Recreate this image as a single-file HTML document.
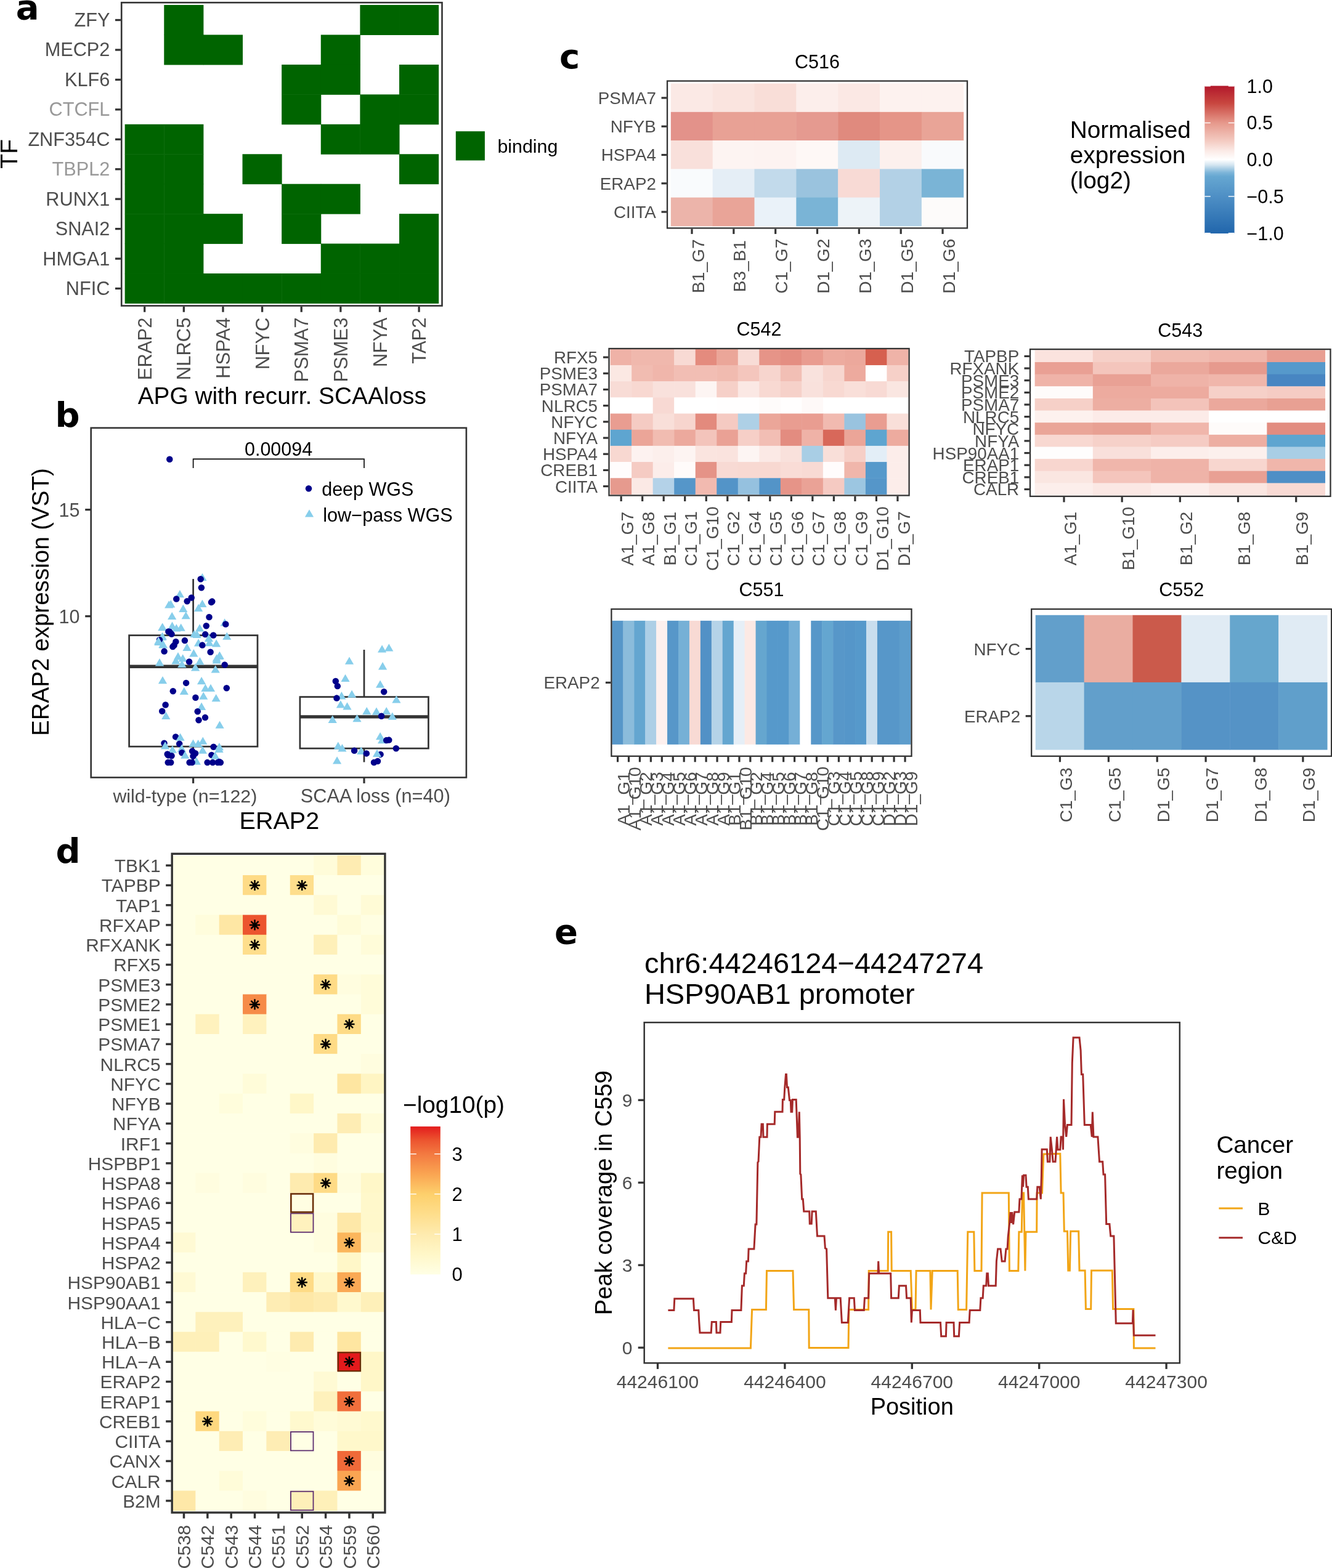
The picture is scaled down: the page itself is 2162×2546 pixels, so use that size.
<!DOCTYPE html>
<html><head><meta charset="utf-8"><title>Figure</title>
<style>
html,body{margin:0;padding:0;background:#fff;}
body{width:2162px;height:2546px;overflow:hidden;}
svg{display:block;}
text{font-family:'Liberation Sans', Arial, Helvetica, sans-serif;}
</style></head>
<body>
<svg width="2162" height="2546" viewBox="0 0 2162 2546">
<rect x="0" y="0" width="2162" height="2546" fill="#FFFFFF"/>
<rect x="266.27" y="8.05" width="64.12" height="48.94" fill="#006400"/>
<rect x="584.40" y="8.05" width="64.12" height="48.94" fill="#006400"/>
<rect x="648.02" y="8.05" width="64.12" height="48.94" fill="#006400"/>
<rect x="266.27" y="56.49" width="64.12" height="48.94" fill="#006400"/>
<rect x="329.90" y="56.49" width="64.12" height="48.94" fill="#006400"/>
<rect x="520.77" y="56.49" width="64.12" height="48.94" fill="#006400"/>
<rect x="457.15" y="104.93" width="64.12" height="48.94" fill="#006400"/>
<rect x="520.77" y="104.93" width="64.12" height="48.94" fill="#006400"/>
<rect x="648.02" y="104.93" width="64.12" height="48.94" fill="#006400"/>
<rect x="457.15" y="153.37" width="64.12" height="48.94" fill="#006400"/>
<rect x="584.40" y="153.37" width="64.12" height="48.94" fill="#006400"/>
<rect x="648.02" y="153.37" width="64.12" height="48.94" fill="#006400"/>
<rect x="202.65" y="201.81" width="64.12" height="48.94" fill="#006400"/>
<rect x="266.27" y="201.81" width="64.12" height="48.94" fill="#006400"/>
<rect x="520.77" y="201.81" width="64.12" height="48.94" fill="#006400"/>
<rect x="584.40" y="201.81" width="64.12" height="48.94" fill="#006400"/>
<rect x="202.65" y="250.25" width="64.12" height="48.94" fill="#006400"/>
<rect x="266.27" y="250.25" width="64.12" height="48.94" fill="#006400"/>
<rect x="393.52" y="250.25" width="64.12" height="48.94" fill="#006400"/>
<rect x="648.02" y="250.25" width="64.12" height="48.94" fill="#006400"/>
<rect x="202.65" y="298.69" width="64.12" height="48.94" fill="#006400"/>
<rect x="266.27" y="298.69" width="64.12" height="48.94" fill="#006400"/>
<rect x="457.15" y="298.69" width="64.12" height="48.94" fill="#006400"/>
<rect x="520.77" y="298.69" width="64.12" height="48.94" fill="#006400"/>
<rect x="202.65" y="347.13" width="64.12" height="48.94" fill="#006400"/>
<rect x="266.27" y="347.13" width="64.12" height="48.94" fill="#006400"/>
<rect x="329.90" y="347.13" width="64.12" height="48.94" fill="#006400"/>
<rect x="457.15" y="347.13" width="64.12" height="48.94" fill="#006400"/>
<rect x="648.02" y="347.13" width="64.12" height="48.94" fill="#006400"/>
<rect x="202.65" y="395.57" width="64.12" height="48.94" fill="#006400"/>
<rect x="266.27" y="395.57" width="64.12" height="48.94" fill="#006400"/>
<rect x="520.77" y="395.57" width="64.12" height="48.94" fill="#006400"/>
<rect x="584.40" y="395.57" width="64.12" height="48.94" fill="#006400"/>
<rect x="648.02" y="395.57" width="64.12" height="48.94" fill="#006400"/>
<rect x="202.65" y="444.01" width="64.12" height="48.94" fill="#006400"/>
<rect x="266.27" y="444.01" width="64.12" height="48.94" fill="#006400"/>
<rect x="329.90" y="444.01" width="64.12" height="48.94" fill="#006400"/>
<rect x="393.52" y="444.01" width="64.12" height="48.94" fill="#006400"/>
<rect x="457.15" y="444.01" width="64.12" height="48.94" fill="#006400"/>
<rect x="520.77" y="444.01" width="64.12" height="48.94" fill="#006400"/>
<rect x="584.40" y="444.01" width="64.12" height="48.94" fill="#006400"/>
<rect x="648.02" y="444.01" width="64.12" height="48.94" fill="#006400"/>
<rect x="197.20" y="4.20" width="520.30" height="492.30" fill="none" stroke="#333333" stroke-width="2.6"/>
<line x1="187.00" y1="32.52" x2="195.90" y2="32.52" stroke="#333333" stroke-width="3.3"/>
<text x="178.40" y="43.02" font-size="30.7" fill="#4D4D4D" text-anchor="end">ZFY</text>
<line x1="187.00" y1="80.96" x2="195.90" y2="80.96" stroke="#333333" stroke-width="3.3"/>
<text x="178.40" y="91.46" font-size="30.7" fill="#4D4D4D" text-anchor="end">MECP2</text>
<line x1="187.00" y1="129.40" x2="195.90" y2="129.40" stroke="#333333" stroke-width="3.3"/>
<text x="178.40" y="139.90" font-size="30.7" fill="#4D4D4D" text-anchor="end">KLF6</text>
<line x1="187.00" y1="177.84" x2="195.90" y2="177.84" stroke="#333333" stroke-width="3.3"/>
<text x="178.40" y="188.34" font-size="30.7" fill="#999999" text-anchor="end">CTCFL</text>
<line x1="187.00" y1="226.28" x2="195.90" y2="226.28" stroke="#333333" stroke-width="3.3"/>
<text x="178.40" y="236.78" font-size="30.7" fill="#4D4D4D" text-anchor="end">ZNF354C</text>
<line x1="187.00" y1="274.72" x2="195.90" y2="274.72" stroke="#333333" stroke-width="3.3"/>
<text x="178.40" y="285.22" font-size="30.7" fill="#999999" text-anchor="end">TBPL2</text>
<line x1="187.00" y1="323.16" x2="195.90" y2="323.16" stroke="#333333" stroke-width="3.3"/>
<text x="178.40" y="333.66" font-size="30.7" fill="#4D4D4D" text-anchor="end">RUNX1</text>
<line x1="187.00" y1="371.60" x2="195.90" y2="371.60" stroke="#333333" stroke-width="3.3"/>
<text x="178.40" y="382.10" font-size="30.7" fill="#4D4D4D" text-anchor="end">SNAI2</text>
<line x1="187.00" y1="420.04" x2="195.90" y2="420.04" stroke="#333333" stroke-width="3.3"/>
<text x="178.40" y="430.54" font-size="30.7" fill="#4D4D4D" text-anchor="end">HMGA1</text>
<line x1="187.00" y1="468.48" x2="195.90" y2="468.48" stroke="#333333" stroke-width="3.3"/>
<text x="178.40" y="478.98" font-size="30.7" fill="#4D4D4D" text-anchor="end">NFIC</text>
<line x1="234.71" y1="497.80" x2="234.71" y2="506.70" stroke="#333333" stroke-width="3.3"/>
<text transform="translate(245.81,515.50) rotate(-90)" font-size="31.0" fill="#4D4D4D" text-anchor="end">ERAP2</text>
<line x1="298.34" y1="497.80" x2="298.34" y2="506.70" stroke="#333333" stroke-width="3.3"/>
<text transform="translate(309.44,515.50) rotate(-90)" font-size="31.0" fill="#4D4D4D" text-anchor="end">NLRC5</text>
<line x1="361.96" y1="497.80" x2="361.96" y2="506.70" stroke="#333333" stroke-width="3.3"/>
<text transform="translate(373.06,515.50) rotate(-90)" font-size="31.0" fill="#4D4D4D" text-anchor="end">HSPA4</text>
<line x1="425.59" y1="497.80" x2="425.59" y2="506.70" stroke="#333333" stroke-width="3.3"/>
<text transform="translate(436.69,515.50) rotate(-90)" font-size="31.0" fill="#4D4D4D" text-anchor="end">NFYC</text>
<line x1="489.21" y1="497.80" x2="489.21" y2="506.70" stroke="#333333" stroke-width="3.3"/>
<text transform="translate(500.31,515.50) rotate(-90)" font-size="31.0" fill="#4D4D4D" text-anchor="end">PSMA7</text>
<line x1="552.84" y1="497.80" x2="552.84" y2="506.70" stroke="#333333" stroke-width="3.3"/>
<text transform="translate(563.94,515.50) rotate(-90)" font-size="31.0" fill="#4D4D4D" text-anchor="end">PSME3</text>
<line x1="616.46" y1="497.80" x2="616.46" y2="506.70" stroke="#333333" stroke-width="3.3"/>
<text transform="translate(627.56,515.50) rotate(-90)" font-size="31.0" fill="#4D4D4D" text-anchor="end">NFYA</text>
<line x1="680.09" y1="497.80" x2="680.09" y2="506.70" stroke="#333333" stroke-width="3.3"/>
<text transform="translate(691.19,515.50) rotate(-90)" font-size="31.0" fill="#4D4D4D" text-anchor="end">TAP2</text>
<text x="457.80" y="656.00" font-size="38.85" fill="#000" text-anchor="middle">APG with recurr. SCAAloss</text>
<text transform="translate(27.9,250.0) rotate(-90)" font-size="39.4" fill="#000" text-anchor="middle">TF</text>
<rect x="739.80" y="213.20" width="47.10" height="47.30" fill="#006400"/>
<text x="807.40" y="247.50" font-size="30.4" fill="#000" text-anchor="start">binding</text>
<text x="25.80" y="30.60" font-size="56" font-weight="bold" style="font-family:'DejaVu Sans', 'Liberation Sans', sans-serif" fill="#000">a</text>
<rect x="147.70" y="694.80" width="609.20" height="567.60" fill="none" stroke="#333333" stroke-width="2.6"/>
<line x1="138.20" y1="827.60" x2="147.70" y2="827.60" stroke="#333333" stroke-width="3.3"/>
<text x="129.50" y="838.50" font-size="30.5" fill="#4D4D4D" text-anchor="end">15</text>
<line x1="138.20" y1="1000.60" x2="147.70" y2="1000.60" stroke="#333333" stroke-width="3.3"/>
<text x="129.50" y="1011.50" font-size="30.5" fill="#4D4D4D" text-anchor="end">10</text>
<line x1="313.60" y1="1262.40" x2="313.60" y2="1271.90" stroke="#333333" stroke-width="3.2"/>
<text x="183.40" y="1302.70" font-size="30.4" fill="#4D4D4D" text-anchor="start">wild-type (n=122)</text>
<line x1="591.00" y1="1262.40" x2="591.00" y2="1271.90" stroke="#333333" stroke-width="3.2"/>
<text x="487.80" y="1302.70" font-size="30.7" fill="#4D4D4D" text-anchor="start">SCAA loss (n=40)</text>
<text x="453.35" y="1345.60" font-size="39.5" fill="#000" text-anchor="middle">ERAP2</text>
<text transform="translate(79,977.5) rotate(-90)" font-size="38.55" fill="#000" text-anchor="middle">ERAP2 expression (VST)</text>
<text x="89.50" y="693.00" font-size="56" font-weight="bold" style="font-family:'DejaVu Sans', 'Liberation Sans', sans-serif" fill="#000">b</text>
<line x1="313.60" y1="940.10" x2="313.60" y2="1031.60" stroke="#333333" stroke-width="2.7"/>
<line x1="313.60" y1="1212.20" x2="313.60" y2="1237.50" stroke="#333333" stroke-width="2.7"/>
<rect x="209.60" y="1031.60" width="208.40" height="180.60" fill="none" stroke="#333333" stroke-width="2.7"/>
<line x1="209.60" y1="1082.30" x2="418.00" y2="1082.30" stroke="#333333" stroke-width="5.4"/>
<line x1="591.00" y1="1055.00" x2="591.00" y2="1131.60" stroke="#333333" stroke-width="2.7"/>
<line x1="591.00" y1="1215.20" x2="591.00" y2="1237.50" stroke="#333333" stroke-width="2.7"/>
<rect x="486.90" y="1131.60" width="208.50" height="83.60" fill="none" stroke="#333333" stroke-width="2.7"/>
<line x1="486.90" y1="1163.90" x2="695.40" y2="1163.90" stroke="#333333" stroke-width="5.4"/>
<circle cx="275.3" cy="745.8" r="5.25" fill="#00008B"/>
<polygon points="321.3,943.0 335.5,943.0 328.4,930.7" fill="#87CEEB"/>
<circle cx="325.7" cy="940.3" r="5.25" fill="#00008B"/>
<circle cx="326.9" cy="954.2" r="5.25" fill="#00008B"/>
<polygon points="284.8,970.3 299.0,970.3 291.9,958.0" fill="#87CEEB"/>
<circle cx="286.3" cy="972.5" r="5.25" fill="#00008B"/>
<circle cx="310.7" cy="970.5" r="5.25" fill="#00008B"/>
<circle cx="303.7" cy="976.3" r="5.25" fill="#00008B"/>
<circle cx="343.0" cy="977.9" r="5.25" fill="#00008B"/>
<circle cx="344.3" cy="976.6" r="5.25" fill="#00008B"/>
<polygon points="270.1,986.6 284.3,986.6 277.2,974.3" fill="#87CEEB"/>
<polygon points="321.3,986.1 335.5,986.1 328.4,973.8" fill="#87CEEB"/>
<polygon points="315.0,992.9 329.2,992.9 322.1,980.6" fill="#87CEEB"/>
<polygon points="290.2,993.9 304.4,993.9 297.3,981.6" fill="#87CEEB"/>
<polygon points="272.1,1006.1 286.3,1006.1 279.2,993.8" fill="#87CEEB"/>
<polygon points="294.6,1005.2 308.8,1005.2 301.7,992.9" fill="#87CEEB"/>
<circle cx="339.5" cy="1002.0" r="5.25" fill="#00008B"/>
<circle cx="334.8" cy="1016.2" r="5.25" fill="#00008B"/>
<polygon points="357.6,1016.5 371.8,1016.5 364.7,1004.2" fill="#87CEEB"/>
<circle cx="366.3" cy="1013.5" r="5.25" fill="#00008B"/>
<polygon points="256.3,1024.2 270.5,1024.2 263.4,1011.9" fill="#87CEEB"/>
<polygon points="272.4,1021.9 286.6,1021.9 279.5,1009.6" fill="#87CEEB"/>
<polygon points="279.2,1025.6 293.4,1025.6 286.3,1013.3" fill="#87CEEB"/>
<polygon points="286.6,1024.7 300.8,1024.7 293.7,1012.4" fill="#87CEEB"/>
<polygon points="267.1,987.5 281.3,987.5 274.2,975.2" fill="#87CEEB"/>
<polygon points="256.7,1023.7 270.9,1023.7 263.8,1011.4" fill="#87CEEB"/>
<circle cx="273.4" cy="1025.5" r="5.25" fill="#00008B"/>
<circle cx="275.4" cy="1026.0" r="5.25" fill="#00008B"/>
<circle cx="278.5" cy="1029.6" r="5.25" fill="#00008B"/>
<polygon points="317.0,1025.6 331.2,1025.6 324.1,1013.3" fill="#87CEEB"/>
<polygon points="308.2,1035.1 322.4,1035.1 315.3,1022.8" fill="#87CEEB"/>
<polygon points="312.7,1036.0 326.9,1036.0 319.8,1023.7" fill="#87CEEB"/>
<circle cx="333.2" cy="1030.1" r="5.25" fill="#00008B"/>
<circle cx="346.3" cy="1031.5" r="5.25" fill="#00008B"/>
<polygon points="361.2,1038.7 375.4,1038.7 368.3,1026.4" fill="#87CEEB"/>
<polygon points="256.2,1039.7 270.4,1039.7 263.3,1027.4" fill="#87CEEB"/>
<polygon points="256.5,1038.7 270.7,1038.7 263.6,1026.4" fill="#87CEEB"/>
<circle cx="259.0" cy="1039.0" r="5.25" fill="#00008B"/>
<polygon points="250.1,1046.4 264.3,1046.4 257.2,1034.1" fill="#87CEEB"/>
<polygon points="250.3,1048.1 264.5,1048.1 257.4,1035.8" fill="#87CEEB"/>
<polygon points="257.4,1051.9 271.6,1051.9 264.5,1039.6" fill="#87CEEB"/>
<polygon points="257.8,1052.4 272.0,1052.4 264.9,1040.1" fill="#87CEEB"/>
<circle cx="285.4" cy="1041.9" r="5.25" fill="#00008B"/>
<circle cx="282.6" cy="1047.8" r="5.25" fill="#00008B"/>
<circle cx="280.4" cy="1050.1" r="5.25" fill="#00008B"/>
<circle cx="299.9" cy="1040.1" r="5.25" fill="#00008B"/>
<polygon points="315.0,1049.6 329.2,1049.6 322.1,1037.3" fill="#87CEEB"/>
<polygon points="332.7,1049.2 346.9,1049.2 339.8,1036.9" fill="#87CEEB"/>
<polygon points="344.0,1050.5 358.2,1050.5 351.1,1038.2" fill="#87CEEB"/>
<polygon points="331.8,1041.9 346.0,1041.9 338.9,1029.6" fill="#87CEEB"/>
<circle cx="328.4" cy="1047.6" r="5.25" fill="#00008B"/>
<polygon points="296.4,1056.9 310.6,1056.9 303.5,1044.6" fill="#87CEEB"/>
<circle cx="266.6" cy="1057.6" r="5.25" fill="#00008B"/>
<circle cx="341.6" cy="1058.7" r="5.25" fill="#00008B"/>
<polygon points="307.3,1066.4 321.5,1066.4 314.4,1054.1" fill="#87CEEB"/>
<polygon points="281.9,1071.4 296.1,1071.4 289.0,1059.1" fill="#87CEEB"/>
<polygon points="289.6,1074.6 303.8,1074.6 296.7,1062.3" fill="#87CEEB"/>
<polygon points="349.5,1070.0 363.7,1070.0 356.6,1057.7" fill="#87CEEB"/>
<polygon points="344.5,1074.6 358.7,1074.6 351.6,1062.3" fill="#87CEEB"/>
<polygon points="348.8,1070.9 363.0,1070.9 355.9,1058.6" fill="#87CEEB"/>
<polygon points="251.9,1081.4 266.1,1081.4 259.0,1069.1" fill="#87CEEB"/>
<polygon points="278.3,1078.5 292.5,1078.5 285.4,1066.2" fill="#87CEEB"/>
<polygon points="288.2,1084.0 302.4,1084.0 295.3,1071.7" fill="#87CEEB"/>
<circle cx="307.1" cy="1074.5" r="5.25" fill="#00008B"/>
<polygon points="317.3,1079.4 331.5,1079.4 324.4,1067.1" fill="#87CEEB"/>
<polygon points="310.0,1089.4 324.2,1089.4 317.1,1077.1" fill="#87CEEB"/>
<polygon points="344.5,1077.6 358.7,1077.6 351.6,1065.3" fill="#87CEEB"/>
<circle cx="364.7" cy="1079.4" r="5.25" fill="#00008B"/>
<polygon points="342.6,1092.6 356.8,1092.6 349.7,1080.3" fill="#87CEEB"/>
<polygon points="256.9,1110.3 271.1,1110.3 264.0,1098.0" fill="#87CEEB"/>
<circle cx="302.1" cy="1108.9" r="5.25" fill="#00008B"/>
<polygon points="320.0,1111.2 334.2,1111.2 327.1,1098.9" fill="#87CEEB"/>
<circle cx="367.8" cy="1117.3" r="5.25" fill="#00008B"/>
<circle cx="280.8" cy="1122.3" r="5.25" fill="#00008B"/>
<polygon points="291.7,1128.0 305.9,1128.0 298.8,1115.7" fill="#87CEEB"/>
<polygon points="326.3,1123.0 340.5,1123.0 333.4,1110.7" fill="#87CEEB"/>
<polygon points="334.9,1123.0 349.1,1123.0 342.0,1110.7" fill="#87CEEB"/>
<circle cx="317.4" cy="1132.8" r="5.25" fill="#00008B"/>
<polygon points="323.1,1135.7 337.3,1135.7 330.2,1123.4" fill="#87CEEB"/>
<polygon points="343.6,1139.3 357.8,1139.3 350.7,1127.0" fill="#87CEEB"/>
<circle cx="268.6" cy="1144.5" r="5.25" fill="#00008B"/>
<circle cx="263.2" cy="1154.7" r="5.25" fill="#00008B"/>
<polygon points="262.2,1167.9 276.4,1167.9 269.3,1155.6" fill="#87CEEB"/>
<polygon points="320.0,1152.9 334.2,1152.9 327.1,1140.6" fill="#87CEEB"/>
<circle cx="320.7" cy="1155.2" r="5.25" fill="#00008B"/>
<circle cx="333.0" cy="1165.1" r="5.25" fill="#00008B"/>
<circle cx="322.5" cy="1169.2" r="5.25" fill="#00008B"/>
<polygon points="349.5,1182.8 363.7,1182.8 356.6,1170.5" fill="#87CEEB"/>
<circle cx="285.1" cy="1196.4" r="5.25" fill="#00008B"/>
<polygon points="285.5,1202.8 299.7,1202.8 292.6,1190.5" fill="#87CEEB"/>
<circle cx="266.5" cy="1206.8" r="5.25" fill="#00008B"/>
<circle cx="291.2" cy="1207.8" r="5.25" fill="#00008B"/>
<polygon points="261.0,1216.4 275.2,1216.4 268.1,1204.1" fill="#87CEEB"/>
<polygon points="306.4,1212.8 320.6,1212.8 313.5,1200.5" fill="#87CEEB"/>
<polygon points="314.5,1213.2 328.7,1213.2 321.6,1200.9" fill="#87CEEB"/>
<polygon points="322.2,1208.7 336.4,1208.7 329.3,1196.4" fill="#87CEEB"/>
<circle cx="346.6" cy="1212.8" r="5.25" fill="#00008B"/>
<polygon points="348.8,1218.3 363.0,1218.3 355.9,1206.0" fill="#87CEEB"/>
<polygon points="272.8,1222.7 287.0,1222.7 279.9,1210.4" fill="#87CEEB"/>
<polygon points="287.8,1220.9 302.0,1220.9 294.9,1208.6" fill="#87CEEB"/>
<circle cx="273.1" cy="1226.4" r="5.25" fill="#00008B"/>
<circle cx="278.5" cy="1227.3" r="5.25" fill="#00008B"/>
<circle cx="295.3" cy="1222.3" r="5.25" fill="#00008B"/>
<polygon points="293.2,1231.8 307.4,1231.8 300.3,1219.5" fill="#87CEEB"/>
<circle cx="312.1" cy="1219.6" r="5.25" fill="#00008B"/>
<circle cx="317.1" cy="1223.2" r="5.25" fill="#00008B"/>
<circle cx="313.5" cy="1227.7" r="5.25" fill="#00008B"/>
<polygon points="321.8,1223.7 336.0,1223.7 328.9,1211.4" fill="#87CEEB"/>
<polygon points="348.5,1221.9 362.7,1221.9 355.6,1209.6" fill="#87CEEB"/>
<circle cx="343.4" cy="1225.9" r="5.25" fill="#00008B"/>
<polygon points="342.2,1232.7 356.4,1232.7 349.3,1220.4" fill="#87CEEB"/>
<circle cx="271.7" cy="1224.4" r="5.25" fill="#00008B"/>
<circle cx="272.7" cy="1238.1" r="5.25" fill="#00008B"/>
<circle cx="277.2" cy="1238.1" r="5.25" fill="#00008B"/>
<polygon points="311.8,1241.8 326.0,1241.8 318.9,1229.5" fill="#87CEEB"/>
<circle cx="307.6" cy="1238.1" r="5.25" fill="#00008B"/>
<circle cx="311.7" cy="1238.1" r="5.25" fill="#00008B"/>
<circle cx="336.6" cy="1238.1" r="5.25" fill="#00008B"/>
<circle cx="345.2" cy="1238.1" r="5.25" fill="#00008B"/>
<circle cx="353.4" cy="1238.1" r="5.25" fill="#00008B"/>
<circle cx="357.9" cy="1238.1" r="5.25" fill="#00008B"/>
<circle cx="355.9" cy="1237.0" r="5.25" fill="#00008B"/>
<polygon points="613.0,1059.6 627.2,1059.6 620.1,1047.3" fill="#87CEEB"/>
<polygon points="624.2,1057.5 638.4,1057.5 631.3,1045.2" fill="#87CEEB"/>
<polygon points="559.9,1078.8 574.1,1078.8 567.0,1066.5" fill="#87CEEB"/>
<polygon points="614.0,1087.4 628.2,1087.4 621.1,1075.1" fill="#87CEEB"/>
<circle cx="544.8" cy="1106.0" r="5.25" fill="#00008B"/>
<polygon points="553.4,1107.1 567.6,1107.1 560.5,1094.8" fill="#87CEEB"/>
<circle cx="547.8" cy="1114.1" r="5.25" fill="#00008B"/>
<polygon points="610.0,1116.7 624.2,1116.7 617.1,1104.4" fill="#87CEEB"/>
<circle cx="623.2" cy="1123.2" r="5.25" fill="#00008B"/>
<polygon points="547.3,1135.4 561.5,1135.4 554.4,1123.1" fill="#87CEEB"/>
<polygon points="564.0,1132.7 578.2,1132.7 571.1,1120.4" fill="#87CEEB"/>
<circle cx="546.5" cy="1133.6" r="5.25" fill="#00008B"/>
<polygon points="636.3,1141.5 650.5,1141.5 643.4,1129.2" fill="#87CEEB"/>
<polygon points="545.8,1149.6 560.0,1149.6 552.9,1137.3" fill="#87CEEB"/>
<polygon points="556.4,1152.6 570.6,1152.6 563.5,1140.3" fill="#87CEEB"/>
<polygon points="588.2,1160.2 602.4,1160.2 595.3,1147.9" fill="#87CEEB"/>
<polygon points="603.9,1160.7 618.1,1160.7 611.0,1148.4" fill="#87CEEB"/>
<polygon points="620.1,1160.2 634.3,1160.2 627.2,1147.9" fill="#87CEEB"/>
<circle cx="619.1" cy="1162.7" r="5.25" fill="#00008B"/>
<polygon points="629.7,1168.8 643.9,1168.8 636.8,1156.5" fill="#87CEEB"/>
<polygon points="532.6,1173.9 546.8,1173.9 539.7,1161.6" fill="#87CEEB"/>
<polygon points="572.4,1172.3 586.6,1172.3 579.5,1160.0" fill="#87CEEB"/>
<polygon points="610.0,1201.2 624.2,1201.2 617.1,1188.9" fill="#87CEEB"/>
<polygon points="613.0,1207.2 627.2,1207.2 620.1,1194.9" fill="#87CEEB"/>
<circle cx="627.2" cy="1202.1" r="5.25" fill="#00008B"/>
<circle cx="631.3" cy="1201.6" r="5.25" fill="#00008B"/>
<circle cx="642.9" cy="1215.3" r="5.25" fill="#00008B"/>
<polygon points="541.7,1216.8 555.9,1216.8 548.8,1204.5" fill="#87CEEB"/>
<polygon points="548.3,1220.4 562.5,1220.4 555.4,1208.1" fill="#87CEEB"/>
<circle cx="575.1" cy="1218.8" r="5.25" fill="#00008B"/>
<polygon points="579.1,1224.9 593.3,1224.9 586.2,1212.6" fill="#87CEEB"/>
<circle cx="594.8" cy="1223.4" r="5.25" fill="#00008B"/>
<circle cx="617.6" cy="1224.9" r="5.25" fill="#00008B"/>
<polygon points="604.9,1229.0 619.1,1229.0 612.0,1216.7" fill="#87CEEB"/>
<circle cx="607.0" cy="1238.0" r="5.25" fill="#00008B"/>
<circle cx="613.0" cy="1236.0" r="5.25" fill="#00008B"/>
<polygon points="540.0,1240.6 554.2,1240.6 547.1,1228.3" fill="#87CEEB"/>
<polyline points="313.6,760.1 313.6,745.4 591,745.4 591,760.1" fill="none" stroke="#000" stroke-width="1.6"/>
<text x="452.10" y="739.80" font-size="30.5" fill="#000" text-anchor="middle">0.00094</text>
<circle cx="501.0" cy="793.2" r="5.25" fill="#00008B"/>
<text x="522.20" y="804.80" font-size="30.5" fill="#000" text-anchor="start">deep WGS</text>
<polygon points="494.9,839.6 509.1,839.6 502.0,827.3" fill="#87CEEB"/>
<text x="524.20" y="847.00" font-size="30.7" fill="#000" text-anchor="start">low−pass WGS</text>
<text x="908.10" y="111.20" font-size="56" font-weight="bold" style="font-family:'DejaVu Sans', 'Liberation Sans', sans-serif" fill="#000">c</text>
<rect x="1088.85" y="135.55" width="68.34" height="46.78" fill="#FBE9E5"/>
<rect x="1156.69" y="135.55" width="68.34" height="46.78" fill="#FAE4DF"/>
<rect x="1224.52" y="135.55" width="68.34" height="46.78" fill="#F9DED8"/>
<rect x="1292.36" y="135.55" width="68.34" height="46.78" fill="#FCEEEB"/>
<rect x="1360.19" y="135.55" width="68.34" height="46.78" fill="#FBE8E4"/>
<rect x="1428.03" y="135.55" width="68.34" height="46.78" fill="#FDF2EF"/>
<rect x="1495.86" y="135.55" width="68.34" height="46.78" fill="#FDF2EF"/>
<rect x="1088.85" y="181.83" width="68.34" height="46.78" fill="#E3928A"/>
<rect x="1156.69" y="181.83" width="68.34" height="46.78" fill="#E8A195"/>
<rect x="1224.52" y="181.83" width="68.34" height="46.78" fill="#E8A195"/>
<rect x="1292.36" y="181.83" width="68.34" height="46.78" fill="#E59A90"/>
<rect x="1360.19" y="181.83" width="68.34" height="46.78" fill="#E08A7E"/>
<rect x="1428.03" y="181.83" width="68.34" height="46.78" fill="#E59588"/>
<rect x="1495.86" y="181.83" width="68.34" height="46.78" fill="#E9A497"/>
<rect x="1088.85" y="228.11" width="68.34" height="46.78" fill="#F9E0DB"/>
<rect x="1156.69" y="228.11" width="68.34" height="46.78" fill="#FDF4F2"/>
<rect x="1224.52" y="228.11" width="68.34" height="46.78" fill="#FDF3F1"/>
<rect x="1292.36" y="228.11" width="68.34" height="46.78" fill="#FEF8F6"/>
<rect x="1360.19" y="228.11" width="68.34" height="46.78" fill="#DDEAF3"/>
<rect x="1428.03" y="228.11" width="68.34" height="46.78" fill="#FCF0ED"/>
<rect x="1495.86" y="228.11" width="68.34" height="46.78" fill="#F9FAFC"/>
<rect x="1088.85" y="274.39" width="68.34" height="46.78" fill="#F9FBFD"/>
<rect x="1156.69" y="274.39" width="68.34" height="46.78" fill="#E5EEF6"/>
<rect x="1224.52" y="274.39" width="68.34" height="46.78" fill="#C2DAEB"/>
<rect x="1292.36" y="274.39" width="68.34" height="46.78" fill="#9AC3DE"/>
<rect x="1360.19" y="274.39" width="68.34" height="46.78" fill="#F8DAD5"/>
<rect x="1428.03" y="274.39" width="68.34" height="46.78" fill="#B3D1E6"/>
<rect x="1495.86" y="274.39" width="68.34" height="46.78" fill="#7AB4D6"/>
<rect x="1088.85" y="320.67" width="68.34" height="46.78" fill="#ECB4AA"/>
<rect x="1156.69" y="320.67" width="68.34" height="46.78" fill="#E9A498"/>
<rect x="1224.52" y="320.67" width="68.34" height="46.78" fill="#EAF2F9"/>
<rect x="1292.36" y="320.67" width="68.34" height="46.78" fill="#7AB4D6"/>
<rect x="1360.19" y="320.67" width="68.34" height="46.78" fill="#EDF3F8"/>
<rect x="1428.03" y="320.67" width="68.34" height="46.78" fill="#B3D1E6"/>
<rect x="1495.86" y="320.67" width="68.34" height="46.78" fill="#FDFBFA"/>
<rect x="1083.05" y="131.50" width="486.95" height="238.90" fill="none" stroke="#333333" stroke-width="2.3"/>
<line x1="1073.55" y1="158.94" x2="1081.90" y2="158.94" stroke="#333333" stroke-width="3.2"/>
<text x="1064.90" y="168.89" font-size="27.8" fill="#4D4D4D" text-anchor="end">PSMA7</text>
<line x1="1073.55" y1="205.22" x2="1081.90" y2="205.22" stroke="#333333" stroke-width="3.2"/>
<text x="1064.90" y="215.17" font-size="27.8" fill="#4D4D4D" text-anchor="end">NFYB</text>
<line x1="1073.55" y1="251.50" x2="1081.90" y2="251.50" stroke="#333333" stroke-width="3.2"/>
<text x="1064.90" y="261.45" font-size="27.8" fill="#4D4D4D" text-anchor="end">HSPA4</text>
<line x1="1073.55" y1="297.78" x2="1081.90" y2="297.78" stroke="#333333" stroke-width="3.2"/>
<text x="1064.90" y="307.73" font-size="27.8" fill="#4D4D4D" text-anchor="end">ERAP2</text>
<line x1="1073.55" y1="344.06" x2="1081.90" y2="344.06" stroke="#333333" stroke-width="3.2"/>
<text x="1064.90" y="354.01" font-size="27.8" fill="#4D4D4D" text-anchor="end">CIITA</text>
<line x1="1123.02" y1="371.55" x2="1123.02" y2="379.90" stroke="#333333" stroke-width="3.2"/>
<text transform="translate(1142.62,432.20) rotate(-90)" font-size="28.1" fill="#4D4D4D" text-anchor="middle">B1_G7</text>
<line x1="1190.85" y1="371.55" x2="1190.85" y2="379.90" stroke="#333333" stroke-width="3.2"/>
<text transform="translate(1210.45,432.20) rotate(-90)" font-size="28.1" fill="#4D4D4D" text-anchor="middle">B3_B1</text>
<line x1="1258.69" y1="371.55" x2="1258.69" y2="379.90" stroke="#333333" stroke-width="3.2"/>
<text transform="translate(1278.29,432.20) rotate(-90)" font-size="28.1" fill="#4D4D4D" text-anchor="middle">C1_G7</text>
<line x1="1326.53" y1="371.55" x2="1326.53" y2="379.90" stroke="#333333" stroke-width="3.2"/>
<text transform="translate(1346.12,432.20) rotate(-90)" font-size="28.1" fill="#4D4D4D" text-anchor="middle">D1_G2</text>
<line x1="1394.36" y1="371.55" x2="1394.36" y2="379.90" stroke="#333333" stroke-width="3.2"/>
<text transform="translate(1413.96,432.20) rotate(-90)" font-size="28.1" fill="#4D4D4D" text-anchor="middle">D1_G3</text>
<line x1="1462.20" y1="371.55" x2="1462.20" y2="379.90" stroke="#333333" stroke-width="3.2"/>
<text transform="translate(1481.80,432.20) rotate(-90)" font-size="28.1" fill="#4D4D4D" text-anchor="middle">D1_G5</text>
<line x1="1530.03" y1="371.55" x2="1530.03" y2="379.90" stroke="#333333" stroke-width="3.2"/>
<text transform="translate(1549.63,432.20) rotate(-90)" font-size="28.1" fill="#4D4D4D" text-anchor="middle">D1_G6</text>
<text x="1326.53" y="110.50" font-size="30.5" fill="#000" text-anchor="middle">C516</text>
<rect x="990.65" y="566.75" width="35.02" height="26.69" fill="#EFB2A7"/>
<rect x="1025.17" y="566.75" width="35.02" height="26.69" fill="#F0B8AD"/>
<rect x="1059.69" y="566.75" width="35.02" height="26.69" fill="#F0B8AD"/>
<rect x="1094.21" y="566.75" width="35.02" height="26.69" fill="#F8DAD4"/>
<rect x="1128.74" y="566.75" width="35.02" height="26.69" fill="#E48B7E"/>
<rect x="1163.26" y="566.75" width="35.02" height="26.69" fill="#EBA699"/>
<rect x="1197.78" y="566.75" width="35.02" height="26.69" fill="#F8DCD6"/>
<rect x="1232.30" y="566.75" width="35.02" height="26.69" fill="#E69488"/>
<rect x="1266.82" y="566.75" width="35.02" height="26.69" fill="#E48E82"/>
<rect x="1301.34" y="566.75" width="35.02" height="26.69" fill="#E99C90"/>
<rect x="1335.86" y="566.75" width="35.02" height="26.69" fill="#EDAB9F"/>
<rect x="1370.39" y="566.75" width="35.02" height="26.69" fill="#ECA89C"/>
<rect x="1404.91" y="566.75" width="35.02" height="26.69" fill="#D6604F"/>
<rect x="1439.43" y="566.75" width="35.02" height="26.69" fill="#EFB3A8"/>
<rect x="990.65" y="592.94" width="35.02" height="26.69" fill="#FBE8E3"/>
<rect x="1025.17" y="592.94" width="35.02" height="26.69" fill="#F1BCB1"/>
<rect x="1059.69" y="592.94" width="35.02" height="26.69" fill="#F0B6AB"/>
<rect x="1094.21" y="592.94" width="35.02" height="26.69" fill="#F2BEB4"/>
<rect x="1128.74" y="592.94" width="35.02" height="26.69" fill="#F2BEB4"/>
<rect x="1163.26" y="592.94" width="35.02" height="26.69" fill="#F1BBB0"/>
<rect x="1197.78" y="592.94" width="35.02" height="26.69" fill="#F4C6BD"/>
<rect x="1232.30" y="592.94" width="35.02" height="26.69" fill="#F7D5CE"/>
<rect x="1266.82" y="592.94" width="35.02" height="26.69" fill="#F2BFB5"/>
<rect x="1301.34" y="592.94" width="35.02" height="26.69" fill="#F9E2DD"/>
<rect x="1335.86" y="592.94" width="35.02" height="26.69" fill="#F7D6CF"/>
<rect x="1370.39" y="592.94" width="35.02" height="26.69" fill="#EDAA9E"/>
<rect x="1404.91" y="592.94" width="35.02" height="26.69" fill="#FFFFFF"/>
<rect x="1439.43" y="592.94" width="35.02" height="26.69" fill="#F6D0C8"/>
<rect x="990.65" y="619.13" width="35.02" height="26.69" fill="#F8DCD6"/>
<rect x="1025.17" y="619.13" width="35.02" height="26.69" fill="#F8D8D1"/>
<rect x="1059.69" y="619.13" width="35.02" height="26.69" fill="#F9E1DC"/>
<rect x="1094.21" y="619.13" width="35.02" height="26.69" fill="#F9E1DC"/>
<rect x="1128.74" y="619.13" width="35.02" height="26.69" fill="#FDF5F3"/>
<rect x="1163.26" y="619.13" width="35.02" height="26.69" fill="#F6D0C8"/>
<rect x="1197.78" y="619.13" width="35.02" height="26.69" fill="#FBE8E4"/>
<rect x="1232.30" y="619.13" width="35.02" height="26.69" fill="#F8D9D2"/>
<rect x="1266.82" y="619.13" width="35.02" height="26.69" fill="#F6D1C9"/>
<rect x="1301.34" y="619.13" width="35.02" height="26.69" fill="#F9E1DC"/>
<rect x="1335.86" y="619.13" width="35.02" height="26.69" fill="#F8D9D2"/>
<rect x="1370.39" y="619.13" width="35.02" height="26.69" fill="#F9DFD9"/>
<rect x="1404.91" y="619.13" width="35.02" height="26.69" fill="#F8DAD4"/>
<rect x="1439.43" y="619.13" width="35.02" height="26.69" fill="#FAE6E1"/>
<rect x="990.65" y="645.32" width="35.02" height="26.69" fill="#FFFFFF"/>
<rect x="1025.17" y="645.32" width="35.02" height="26.69" fill="#FFFFFF"/>
<rect x="1059.69" y="645.32" width="35.02" height="26.69" fill="#F8D9D3"/>
<rect x="1094.21" y="645.32" width="35.02" height="26.69" fill="#FFFFFF"/>
<rect x="1128.74" y="645.32" width="35.02" height="26.69" fill="#FFFFFF"/>
<rect x="1163.26" y="645.32" width="35.02" height="26.69" fill="#FFFEFE"/>
<rect x="1197.78" y="645.32" width="35.02" height="26.69" fill="#FFFEFE"/>
<rect x="1232.30" y="645.32" width="35.02" height="26.69" fill="#FEFBFA"/>
<rect x="1266.82" y="645.32" width="35.02" height="26.69" fill="#FFFEFE"/>
<rect x="1301.34" y="645.32" width="35.02" height="26.69" fill="#FEF9F8"/>
<rect x="1335.86" y="645.32" width="35.02" height="26.69" fill="#FFFFFF"/>
<rect x="1370.39" y="645.32" width="35.02" height="26.69" fill="#FFFFFF"/>
<rect x="1404.91" y="645.32" width="35.02" height="26.69" fill="#FFFFFF"/>
<rect x="1439.43" y="645.32" width="35.02" height="26.69" fill="#FFFFFF"/>
<rect x="990.65" y="671.51" width="35.02" height="26.69" fill="#E99D91"/>
<rect x="1025.17" y="671.51" width="35.02" height="26.69" fill="#F5CBC3"/>
<rect x="1059.69" y="671.51" width="35.02" height="26.69" fill="#F9DFD9"/>
<rect x="1094.21" y="671.51" width="35.02" height="26.69" fill="#F7D5CE"/>
<rect x="1128.74" y="671.51" width="35.02" height="26.69" fill="#E38A7D"/>
<rect x="1163.26" y="671.51" width="35.02" height="26.69" fill="#F5CAC2"/>
<rect x="1197.78" y="671.51" width="35.02" height="26.69" fill="#AED0E6"/>
<rect x="1232.30" y="671.51" width="35.02" height="26.69" fill="#EBA699"/>
<rect x="1266.82" y="671.51" width="35.02" height="26.69" fill="#E99D91"/>
<rect x="1301.34" y="671.51" width="35.02" height="26.69" fill="#E99D91"/>
<rect x="1335.86" y="671.51" width="35.02" height="26.69" fill="#F1BAB0"/>
<rect x="1370.39" y="671.51" width="35.02" height="26.69" fill="#99C3DF"/>
<rect x="1404.91" y="671.51" width="35.02" height="26.69" fill="#E99D91"/>
<rect x="1439.43" y="671.51" width="35.02" height="26.69" fill="#F9DFD9"/>
<rect x="990.65" y="697.69" width="35.02" height="26.69" fill="#5EA5D0"/>
<rect x="1025.17" y="697.69" width="35.02" height="26.69" fill="#EBA598"/>
<rect x="1059.69" y="697.69" width="35.02" height="26.69" fill="#F1BCB1"/>
<rect x="1094.21" y="697.69" width="35.02" height="26.69" fill="#ECA99D"/>
<rect x="1128.74" y="697.69" width="35.02" height="26.69" fill="#F3C4BB"/>
<rect x="1163.26" y="697.69" width="35.02" height="26.69" fill="#EAA195"/>
<rect x="1197.78" y="697.69" width="35.02" height="26.69" fill="#F6CFC7"/>
<rect x="1232.30" y="697.69" width="35.02" height="26.69" fill="#F2BEB4"/>
<rect x="1266.82" y="697.69" width="35.02" height="26.69" fill="#E38C80"/>
<rect x="1301.34" y="697.69" width="35.02" height="26.69" fill="#EFB2A7"/>
<rect x="1335.86" y="697.69" width="35.02" height="26.69" fill="#D8685A"/>
<rect x="1370.39" y="697.69" width="35.02" height="26.69" fill="#EBA598"/>
<rect x="1404.91" y="697.69" width="35.02" height="26.69" fill="#5EA5D0"/>
<rect x="1439.43" y="697.69" width="35.02" height="26.69" fill="#EDAB9F"/>
<rect x="990.65" y="723.88" width="35.02" height="26.69" fill="#F8D8D1"/>
<rect x="1025.17" y="723.88" width="35.02" height="26.69" fill="#FDF2F0"/>
<rect x="1059.69" y="723.88" width="35.02" height="26.69" fill="#FCEFEC"/>
<rect x="1094.21" y="723.88" width="35.02" height="26.69" fill="#FDF4F2"/>
<rect x="1128.74" y="723.88" width="35.02" height="26.69" fill="#FAE4DF"/>
<rect x="1163.26" y="723.88" width="35.02" height="26.69" fill="#FAE3DE"/>
<rect x="1197.78" y="723.88" width="35.02" height="26.69" fill="#FDF5F3"/>
<rect x="1232.30" y="723.88" width="35.02" height="26.69" fill="#FBE9E5"/>
<rect x="1266.82" y="723.88" width="35.02" height="26.69" fill="#F9E1DC"/>
<rect x="1301.34" y="723.88" width="35.02" height="26.69" fill="#A9CEE5"/>
<rect x="1335.86" y="723.88" width="35.02" height="26.69" fill="#F9DFD9"/>
<rect x="1370.39" y="723.88" width="35.02" height="26.69" fill="#F6CFC7"/>
<rect x="1404.91" y="723.88" width="35.02" height="26.69" fill="#E3EEF7"/>
<rect x="1439.43" y="723.88" width="35.02" height="26.69" fill="#FCEDEA"/>
<rect x="990.65" y="750.07" width="35.02" height="26.69" fill="#FFFCFC"/>
<rect x="1025.17" y="750.07" width="35.02" height="26.69" fill="#F5CBC3"/>
<rect x="1059.69" y="750.07" width="35.02" height="26.69" fill="#FCEDEA"/>
<rect x="1094.21" y="750.07" width="35.02" height="26.69" fill="#FFFBFA"/>
<rect x="1128.74" y="750.07" width="35.02" height="26.69" fill="#E59387"/>
<rect x="1163.26" y="750.07" width="35.02" height="26.69" fill="#F8DAD4"/>
<rect x="1197.78" y="750.07" width="35.02" height="26.69" fill="#F8D9D2"/>
<rect x="1232.30" y="750.07" width="35.02" height="26.69" fill="#F8D8D1"/>
<rect x="1266.82" y="750.07" width="35.02" height="26.69" fill="#F9DCD6"/>
<rect x="1301.34" y="750.07" width="35.02" height="26.69" fill="#F8DAD4"/>
<rect x="1335.86" y="750.07" width="35.02" height="26.69" fill="#FFFCFC"/>
<rect x="1370.39" y="750.07" width="35.02" height="26.69" fill="#F0B6AB"/>
<rect x="1404.91" y="750.07" width="35.02" height="26.69" fill="#5699CB"/>
<rect x="1439.43" y="750.07" width="35.02" height="26.69" fill="#FCEDEA"/>
<rect x="990.65" y="776.26" width="35.02" height="26.69" fill="#E69A8E"/>
<rect x="1025.17" y="776.26" width="35.02" height="26.69" fill="#FBE9E5"/>
<rect x="1059.69" y="776.26" width="35.02" height="26.69" fill="#B4D2E8"/>
<rect x="1094.21" y="776.26" width="35.02" height="26.69" fill="#5596C9"/>
<rect x="1128.74" y="776.26" width="35.02" height="26.69" fill="#F2BAB0"/>
<rect x="1163.26" y="776.26" width="35.02" height="26.69" fill="#5394C8"/>
<rect x="1197.78" y="776.26" width="35.02" height="26.69" fill="#95C1DF"/>
<rect x="1232.30" y="776.26" width="35.02" height="26.69" fill="#5394C8"/>
<rect x="1266.82" y="776.26" width="35.02" height="26.69" fill="#E69488"/>
<rect x="1301.34" y="776.26" width="35.02" height="26.69" fill="#EAA296"/>
<rect x="1335.86" y="776.26" width="35.02" height="26.69" fill="#F5CAC2"/>
<rect x="1370.39" y="776.26" width="35.02" height="26.69" fill="#9CC6E1"/>
<rect x="1404.91" y="776.26" width="35.02" height="26.69" fill="#5596C9"/>
<rect x="1439.43" y="776.26" width="35.02" height="26.69" fill="#FCEDEA"/>
<rect x="988.50" y="566.00" width="487.10" height="238.50" fill="none" stroke="#333333" stroke-width="2.3"/>
<line x1="979.00" y1="580.09" x2="987.35" y2="580.09" stroke="#333333" stroke-width="3.2"/>
<text x="970.00" y="590.05" font-size="27.8" fill="#4D4D4D" text-anchor="end">RFX5</text>
<line x1="979.00" y1="606.28" x2="987.35" y2="606.28" stroke="#333333" stroke-width="3.2"/>
<text x="970.00" y="616.24" font-size="27.8" fill="#4D4D4D" text-anchor="end">PSME3</text>
<line x1="979.00" y1="632.47" x2="987.35" y2="632.47" stroke="#333333" stroke-width="3.2"/>
<text x="970.00" y="642.42" font-size="27.8" fill="#4D4D4D" text-anchor="end">PSMA7</text>
<line x1="979.00" y1="658.66" x2="987.35" y2="658.66" stroke="#333333" stroke-width="3.2"/>
<text x="970.00" y="668.61" font-size="27.8" fill="#4D4D4D" text-anchor="end">NLRC5</text>
<line x1="979.00" y1="684.85" x2="987.35" y2="684.85" stroke="#333333" stroke-width="3.2"/>
<text x="970.00" y="694.80" font-size="27.8" fill="#4D4D4D" text-anchor="end">NFYC</text>
<line x1="979.00" y1="711.04" x2="987.35" y2="711.04" stroke="#333333" stroke-width="3.2"/>
<text x="970.00" y="720.99" font-size="27.8" fill="#4D4D4D" text-anchor="end">NFYA</text>
<line x1="979.00" y1="737.23" x2="987.35" y2="737.23" stroke="#333333" stroke-width="3.2"/>
<text x="970.00" y="747.18" font-size="27.8" fill="#4D4D4D" text-anchor="end">HSPA4</text>
<line x1="979.00" y1="763.42" x2="987.35" y2="763.42" stroke="#333333" stroke-width="3.2"/>
<text x="970.00" y="773.37" font-size="27.8" fill="#4D4D4D" text-anchor="end">CREB1</text>
<line x1="979.00" y1="789.61" x2="987.35" y2="789.61" stroke="#333333" stroke-width="3.2"/>
<text x="970.00" y="799.56" font-size="27.8" fill="#4D4D4D" text-anchor="end">CIITA</text>
<line x1="1008.16" y1="805.65" x2="1008.16" y2="814.00" stroke="#333333" stroke-width="3.2"/>
<text transform="translate(1027.76,874.70) rotate(-90)" font-size="28.1" fill="#4D4D4D" text-anchor="middle">A1_G7</text>
<line x1="1042.68" y1="805.65" x2="1042.68" y2="814.00" stroke="#333333" stroke-width="3.2"/>
<text transform="translate(1062.28,874.70) rotate(-90)" font-size="28.1" fill="#4D4D4D" text-anchor="middle">A1_G8</text>
<line x1="1077.20" y1="805.65" x2="1077.20" y2="814.00" stroke="#333333" stroke-width="3.2"/>
<text transform="translate(1096.80,874.70) rotate(-90)" font-size="28.1" fill="#4D4D4D" text-anchor="middle">B1_G1</text>
<line x1="1111.72" y1="805.65" x2="1111.72" y2="814.00" stroke="#333333" stroke-width="3.2"/>
<text transform="translate(1131.32,874.70) rotate(-90)" font-size="28.1" fill="#4D4D4D" text-anchor="middle">C1_G1</text>
<line x1="1146.25" y1="805.65" x2="1146.25" y2="814.00" stroke="#333333" stroke-width="3.2"/>
<text transform="translate(1165.85,874.70) rotate(-90)" font-size="28.1" fill="#4D4D4D" text-anchor="middle">C1_G10</text>
<line x1="1180.77" y1="805.65" x2="1180.77" y2="814.00" stroke="#333333" stroke-width="3.2"/>
<text transform="translate(1200.37,874.70) rotate(-90)" font-size="28.1" fill="#4D4D4D" text-anchor="middle">C1_G2</text>
<line x1="1215.29" y1="805.65" x2="1215.29" y2="814.00" stroke="#333333" stroke-width="3.2"/>
<text transform="translate(1234.89,874.70) rotate(-90)" font-size="28.1" fill="#4D4D4D" text-anchor="middle">C1_G4</text>
<line x1="1249.81" y1="805.65" x2="1249.81" y2="814.00" stroke="#333333" stroke-width="3.2"/>
<text transform="translate(1269.41,874.70) rotate(-90)" font-size="28.1" fill="#4D4D4D" text-anchor="middle">C1_G5</text>
<line x1="1284.33" y1="805.65" x2="1284.33" y2="814.00" stroke="#333333" stroke-width="3.2"/>
<text transform="translate(1303.93,874.70) rotate(-90)" font-size="28.1" fill="#4D4D4D" text-anchor="middle">C1_G6</text>
<line x1="1318.85" y1="805.65" x2="1318.85" y2="814.00" stroke="#333333" stroke-width="3.2"/>
<text transform="translate(1338.45,874.70) rotate(-90)" font-size="28.1" fill="#4D4D4D" text-anchor="middle">C1_G7</text>
<line x1="1353.38" y1="805.65" x2="1353.38" y2="814.00" stroke="#333333" stroke-width="3.2"/>
<text transform="translate(1372.97,874.70) rotate(-90)" font-size="28.1" fill="#4D4D4D" text-anchor="middle">C1_G8</text>
<line x1="1387.90" y1="805.65" x2="1387.90" y2="814.00" stroke="#333333" stroke-width="3.2"/>
<text transform="translate(1407.50,874.70) rotate(-90)" font-size="28.1" fill="#4D4D4D" text-anchor="middle">C1_G9</text>
<line x1="1422.42" y1="805.65" x2="1422.42" y2="814.00" stroke="#333333" stroke-width="3.2"/>
<text transform="translate(1442.02,874.70) rotate(-90)" font-size="28.1" fill="#4D4D4D" text-anchor="middle">D1_G10</text>
<line x1="1456.94" y1="805.65" x2="1456.94" y2="814.00" stroke="#333333" stroke-width="3.2"/>
<text transform="translate(1476.54,874.70) rotate(-90)" font-size="28.1" fill="#4D4D4D" text-anchor="middle">D1_G7</text>
<text x="1232.05" y="544.50" font-size="30.5" fill="#000" text-anchor="middle">C542</text>
<rect x="1679.65" y="568.35" width="94.68" height="20.14" fill="#FBE3DE"/>
<rect x="1773.83" y="568.35" width="94.68" height="20.14" fill="#F6D0C8"/>
<rect x="1868.01" y="568.35" width="94.68" height="20.14" fill="#F1BCB1"/>
<rect x="1962.19" y="568.35" width="94.68" height="20.14" fill="#F0B6AB"/>
<rect x="2056.37" y="568.35" width="94.68" height="20.14" fill="#E89E92"/>
<rect x="1679.65" y="587.99" width="94.68" height="20.14" fill="#E9A094"/>
<rect x="1773.83" y="587.99" width="94.68" height="20.14" fill="#F4C5BC"/>
<rect x="1868.01" y="587.99" width="94.68" height="20.14" fill="#EBA89C"/>
<rect x="1962.19" y="587.99" width="94.68" height="20.14" fill="#E69A8E"/>
<rect x="2056.37" y="587.99" width="94.68" height="20.14" fill="#5699CB"/>
<rect x="1679.65" y="607.63" width="94.68" height="20.14" fill="#EFB3A8"/>
<rect x="1773.83" y="607.63" width="94.68" height="20.14" fill="#E9A195"/>
<rect x="1868.01" y="607.63" width="94.68" height="20.14" fill="#EFB3A8"/>
<rect x="1962.19" y="607.63" width="94.68" height="20.14" fill="#F0B6AB"/>
<rect x="2056.37" y="607.63" width="94.68" height="20.14" fill="#4886C2"/>
<rect x="1679.65" y="627.27" width="94.68" height="20.14" fill="#FEFBFA"/>
<rect x="1773.83" y="627.27" width="94.68" height="20.14" fill="#EDAB9F"/>
<rect x="1868.01" y="627.27" width="94.68" height="20.14" fill="#EDAB9F"/>
<rect x="1962.19" y="627.27" width="94.68" height="20.14" fill="#F6D0C8"/>
<rect x="2056.37" y="627.27" width="94.68" height="20.14" fill="#F5CCC4"/>
<rect x="1679.65" y="646.92" width="94.68" height="20.14" fill="#F6D0C8"/>
<rect x="1773.83" y="646.92" width="94.68" height="20.14" fill="#EDAEA2"/>
<rect x="1868.01" y="646.92" width="94.68" height="20.14" fill="#F3C3BA"/>
<rect x="1962.19" y="646.92" width="94.68" height="20.14" fill="#EBA89C"/>
<rect x="2056.37" y="646.92" width="94.68" height="20.14" fill="#E8A093"/>
<rect x="1679.65" y="666.56" width="94.68" height="20.14" fill="#FDF1EE"/>
<rect x="1773.83" y="666.56" width="94.68" height="20.14" fill="#FCEBE8"/>
<rect x="1868.01" y="666.56" width="94.68" height="20.14" fill="#FCEBE8"/>
<rect x="1962.19" y="666.56" width="94.68" height="20.14" fill="#FFFFFF"/>
<rect x="2056.37" y="666.56" width="94.68" height="20.14" fill="#FFFFFF"/>
<rect x="1679.65" y="686.20" width="94.68" height="20.14" fill="#EAA598"/>
<rect x="1773.83" y="686.20" width="94.68" height="20.14" fill="#E8A093"/>
<rect x="1868.01" y="686.20" width="94.68" height="20.14" fill="#F0B6AB"/>
<rect x="1962.19" y="686.20" width="94.68" height="20.14" fill="#FEFBFA"/>
<rect x="2056.37" y="686.20" width="94.68" height="20.14" fill="#E28C80"/>
<rect x="1679.65" y="705.84" width="94.68" height="20.14" fill="#F8D8D1"/>
<rect x="1773.83" y="705.84" width="94.68" height="20.14" fill="#F6D1C9"/>
<rect x="1868.01" y="705.84" width="94.68" height="20.14" fill="#F5CBC3"/>
<rect x="1962.19" y="705.84" width="94.68" height="20.14" fill="#EDAEA2"/>
<rect x="2056.37" y="705.84" width="94.68" height="20.14" fill="#5EA5D0"/>
<rect x="1679.65" y="725.48" width="94.68" height="20.14" fill="#FEFDFD"/>
<rect x="1773.83" y="725.48" width="94.68" height="20.14" fill="#F9E0DB"/>
<rect x="1868.01" y="725.48" width="94.68" height="20.14" fill="#FCEEEB"/>
<rect x="1962.19" y="725.48" width="94.68" height="20.14" fill="#FCF0ED"/>
<rect x="2056.37" y="725.48" width="94.68" height="20.14" fill="#A9CEE5"/>
<rect x="1679.65" y="745.12" width="94.68" height="20.14" fill="#F8D6CF"/>
<rect x="1773.83" y="745.12" width="94.68" height="20.14" fill="#F0B6AB"/>
<rect x="1868.01" y="745.12" width="94.68" height="20.14" fill="#EFB3A8"/>
<rect x="1962.19" y="745.12" width="94.68" height="20.14" fill="#F8D6CF"/>
<rect x="2056.37" y="745.12" width="94.68" height="20.14" fill="#F0B6AB"/>
<rect x="1679.65" y="764.77" width="94.68" height="20.14" fill="#FAE6E1"/>
<rect x="1773.83" y="764.77" width="94.68" height="20.14" fill="#F4C5BC"/>
<rect x="1868.01" y="764.77" width="94.68" height="20.14" fill="#EFB3A8"/>
<rect x="1962.19" y="764.77" width="94.68" height="20.14" fill="#E9A094"/>
<rect x="2056.37" y="764.77" width="94.68" height="20.14" fill="#4F8FC6"/>
<rect x="1679.65" y="784.41" width="94.68" height="20.14" fill="#FCEEEB"/>
<rect x="1773.83" y="784.41" width="94.68" height="20.14" fill="#FBE8E4"/>
<rect x="1868.01" y="784.41" width="94.68" height="20.14" fill="#FCEEEB"/>
<rect x="1962.19" y="784.41" width="94.68" height="20.14" fill="#FAE6E1"/>
<rect x="2056.37" y="784.41" width="94.68" height="20.14" fill="#F8DAD4"/>
<rect x="1672.00" y="567.10" width="487.50" height="238.80" fill="none" stroke="#333333" stroke-width="2.3"/>
<line x1="1662.50" y1="578.42" x2="1670.85" y2="578.42" stroke="#333333" stroke-width="3.2"/>
<text x="1654.20" y="588.37" font-size="27.8" fill="#4D4D4D" text-anchor="end">TAPBP</text>
<line x1="1662.50" y1="598.06" x2="1670.85" y2="598.06" stroke="#333333" stroke-width="3.2"/>
<text x="1654.20" y="608.01" font-size="27.8" fill="#4D4D4D" text-anchor="end">RFXANK</text>
<line x1="1662.50" y1="617.70" x2="1670.85" y2="617.70" stroke="#333333" stroke-width="3.2"/>
<text x="1654.20" y="627.66" font-size="27.8" fill="#4D4D4D" text-anchor="end">PSME3</text>
<line x1="1662.50" y1="637.35" x2="1670.85" y2="637.35" stroke="#333333" stroke-width="3.2"/>
<text x="1654.20" y="647.30" font-size="27.8" fill="#4D4D4D" text-anchor="end">PSME2</text>
<line x1="1662.50" y1="656.99" x2="1670.85" y2="656.99" stroke="#333333" stroke-width="3.2"/>
<text x="1654.20" y="666.94" font-size="27.8" fill="#4D4D4D" text-anchor="end">PSMA7</text>
<line x1="1662.50" y1="676.63" x2="1670.85" y2="676.63" stroke="#333333" stroke-width="3.2"/>
<text x="1654.20" y="686.58" font-size="27.8" fill="#4D4D4D" text-anchor="end">NLRC5</text>
<line x1="1662.50" y1="696.27" x2="1670.85" y2="696.27" stroke="#333333" stroke-width="3.2"/>
<text x="1654.20" y="706.22" font-size="27.8" fill="#4D4D4D" text-anchor="end">NFYC</text>
<line x1="1662.50" y1="715.91" x2="1670.85" y2="715.91" stroke="#333333" stroke-width="3.2"/>
<text x="1654.20" y="725.86" font-size="27.8" fill="#4D4D4D" text-anchor="end">NFYA</text>
<line x1="1662.50" y1="735.55" x2="1670.85" y2="735.55" stroke="#333333" stroke-width="3.2"/>
<text x="1654.20" y="745.51" font-size="27.8" fill="#4D4D4D" text-anchor="end">HSP90AA1</text>
<line x1="1662.50" y1="755.20" x2="1670.85" y2="755.20" stroke="#333333" stroke-width="3.2"/>
<text x="1654.20" y="765.15" font-size="27.8" fill="#4D4D4D" text-anchor="end">ERAP1</text>
<line x1="1662.50" y1="774.84" x2="1670.85" y2="774.84" stroke="#333333" stroke-width="3.2"/>
<text x="1654.20" y="784.79" font-size="27.8" fill="#4D4D4D" text-anchor="end">CREB1</text>
<line x1="1662.50" y1="794.48" x2="1670.85" y2="794.48" stroke="#333333" stroke-width="3.2"/>
<text x="1654.20" y="804.43" font-size="27.8" fill="#4D4D4D" text-anchor="end">CALR</text>
<line x1="1726.99" y1="807.05" x2="1726.99" y2="815.40" stroke="#333333" stroke-width="3.2"/>
<text transform="translate(1746.59,874.50) rotate(-90)" font-size="28.1" fill="#4D4D4D" text-anchor="middle">A1_G1</text>
<line x1="1821.17" y1="807.05" x2="1821.17" y2="815.40" stroke="#333333" stroke-width="3.2"/>
<text transform="translate(1840.77,874.50) rotate(-90)" font-size="28.1" fill="#4D4D4D" text-anchor="middle">B1_G10</text>
<line x1="1915.35" y1="807.05" x2="1915.35" y2="815.40" stroke="#333333" stroke-width="3.2"/>
<text transform="translate(1934.95,874.50) rotate(-90)" font-size="28.1" fill="#4D4D4D" text-anchor="middle">B1_G2</text>
<line x1="2009.53" y1="807.05" x2="2009.53" y2="815.40" stroke="#333333" stroke-width="3.2"/>
<text transform="translate(2029.13,874.50) rotate(-90)" font-size="28.1" fill="#4D4D4D" text-anchor="middle">B1_G8</text>
<line x1="2103.71" y1="807.05" x2="2103.71" y2="815.40" stroke="#333333" stroke-width="3.2"/>
<text transform="translate(2123.31,874.50) rotate(-90)" font-size="28.1" fill="#4D4D4D" text-anchor="middle">B1_G9</text>
<text x="1915.75" y="546.80" font-size="30.5" fill="#000" text-anchor="middle">C543</text>
<rect x="993.35" y="1007.85" width="18.44" height="201.00" fill="#5797C9"/>
<rect x="1011.29" y="1007.85" width="18.44" height="201.00" fill="#8BBCDB"/>
<rect x="1029.23" y="1007.85" width="18.44" height="201.00" fill="#64A6D0"/>
<rect x="1047.17" y="1007.85" width="18.44" height="201.00" fill="#ADCFE6"/>
<rect x="1065.11" y="1007.85" width="18.44" height="201.00" fill="#FDF0EE"/>
<rect x="1083.05" y="1007.85" width="18.44" height="201.00" fill="#5797C9"/>
<rect x="1100.99" y="1007.85" width="18.44" height="201.00" fill="#76B0D6"/>
<rect x="1118.94" y="1007.85" width="18.44" height="201.00" fill="#F8DAD4"/>
<rect x="1136.88" y="1007.85" width="18.44" height="201.00" fill="#5291C6"/>
<rect x="1154.82" y="1007.85" width="18.44" height="201.00" fill="#B5D3E8"/>
<rect x="1172.76" y="1007.85" width="18.44" height="201.00" fill="#64A6D0"/>
<rect x="1190.70" y="1007.85" width="18.44" height="201.00" fill="#E6EFF7"/>
<rect x="1208.64" y="1007.85" width="18.44" height="201.00" fill="#FCE9E4"/>
<rect x="1226.58" y="1007.85" width="18.44" height="201.00" fill="#65A6CF"/>
<rect x="1244.52" y="1007.85" width="18.44" height="201.00" fill="#5699CB"/>
<rect x="1262.46" y="1007.85" width="18.44" height="201.00" fill="#5699CB"/>
<rect x="1280.40" y="1007.85" width="18.44" height="201.00" fill="#75AFD6"/>
<rect x="1298.34" y="1007.85" width="18.44" height="201.00" fill="#FFFFFF"/>
<rect x="1316.28" y="1007.85" width="18.44" height="201.00" fill="#5797C9"/>
<rect x="1334.22" y="1007.85" width="18.44" height="201.00" fill="#64A6D0"/>
<rect x="1352.16" y="1007.85" width="18.44" height="201.00" fill="#5797C9"/>
<rect x="1370.11" y="1007.85" width="18.44" height="201.00" fill="#5596C9"/>
<rect x="1388.05" y="1007.85" width="18.44" height="201.00" fill="#5699CB"/>
<rect x="1405.99" y="1007.85" width="18.44" height="201.00" fill="#C9DEEE"/>
<rect x="1423.93" y="1007.85" width="18.44" height="201.00" fill="#5797C9"/>
<rect x="1441.87" y="1007.85" width="18.44" height="201.00" fill="#5797C9"/>
<rect x="1459.81" y="1007.85" width="18.44" height="201.00" fill="#5D9DCC"/>
<rect x="992.40" y="989.00" width="487.10" height="238.80" fill="none" stroke="#333333" stroke-width="2.3"/>
<line x1="982.90" y1="1108.35" x2="991.25" y2="1108.35" stroke="#333333" stroke-width="3.2"/>
<text x="973.60" y="1118.30" font-size="27.8" fill="#4D4D4D" text-anchor="end">ERAP2</text>
<line x1="1002.57" y1="1228.95" x2="1002.57" y2="1237.30" stroke="#333333" stroke-width="3.2"/>
<text transform="translate(1022.17,1297.00) rotate(-90)" font-size="28.1" fill="#4D4D4D" text-anchor="middle">A1_G1</text>
<line x1="1020.51" y1="1228.95" x2="1020.51" y2="1237.30" stroke="#333333" stroke-width="3.2"/>
<text transform="translate(1040.11,1297.00) rotate(-90)" font-size="28.1" fill="#4D4D4D" text-anchor="middle">A1_G10</text>
<line x1="1038.45" y1="1228.95" x2="1038.45" y2="1237.30" stroke="#333333" stroke-width="3.2"/>
<text transform="translate(1058.05,1297.00) rotate(-90)" font-size="28.1" fill="#4D4D4D" text-anchor="middle">A1_G2</text>
<line x1="1056.39" y1="1228.95" x2="1056.39" y2="1237.30" stroke="#333333" stroke-width="3.2"/>
<text transform="translate(1075.99,1297.00) rotate(-90)" font-size="28.1" fill="#4D4D4D" text-anchor="middle">A1_G3</text>
<line x1="1074.33" y1="1228.95" x2="1074.33" y2="1237.30" stroke="#333333" stroke-width="3.2"/>
<text transform="translate(1093.93,1297.00) rotate(-90)" font-size="28.1" fill="#4D4D4D" text-anchor="middle">A1_G4</text>
<line x1="1092.27" y1="1228.95" x2="1092.27" y2="1237.30" stroke="#333333" stroke-width="3.2"/>
<text transform="translate(1111.87,1297.00) rotate(-90)" font-size="28.1" fill="#4D4D4D" text-anchor="middle">A1_G5</text>
<line x1="1110.21" y1="1228.95" x2="1110.21" y2="1237.30" stroke="#333333" stroke-width="3.2"/>
<text transform="translate(1129.81,1297.00) rotate(-90)" font-size="28.1" fill="#4D4D4D" text-anchor="middle">A1_G6</text>
<line x1="1128.16" y1="1228.95" x2="1128.16" y2="1237.30" stroke="#333333" stroke-width="3.2"/>
<text transform="translate(1147.76,1297.00) rotate(-90)" font-size="28.1" fill="#4D4D4D" text-anchor="middle">A1_G7</text>
<line x1="1146.10" y1="1228.95" x2="1146.10" y2="1237.30" stroke="#333333" stroke-width="3.2"/>
<text transform="translate(1165.70,1297.00) rotate(-90)" font-size="28.1" fill="#4D4D4D" text-anchor="middle">A1_G8</text>
<line x1="1164.04" y1="1228.95" x2="1164.04" y2="1237.30" stroke="#333333" stroke-width="3.2"/>
<text transform="translate(1183.64,1297.00) rotate(-90)" font-size="28.1" fill="#4D4D4D" text-anchor="middle">A1_G9</text>
<line x1="1181.98" y1="1228.95" x2="1181.98" y2="1237.30" stroke="#333333" stroke-width="3.2"/>
<text transform="translate(1201.58,1297.00) rotate(-90)" font-size="28.1" fill="#4D4D4D" text-anchor="middle">B1_G1</text>
<line x1="1199.92" y1="1228.95" x2="1199.92" y2="1237.30" stroke="#333333" stroke-width="3.2"/>
<text transform="translate(1219.52,1297.00) rotate(-90)" font-size="28.1" fill="#4D4D4D" text-anchor="middle">B1_G10</text>
<line x1="1217.86" y1="1228.95" x2="1217.86" y2="1237.30" stroke="#333333" stroke-width="3.2"/>
<text transform="translate(1237.46,1297.00) rotate(-90)" font-size="28.1" fill="#4D4D4D" text-anchor="middle">B1_G2</text>
<line x1="1235.80" y1="1228.95" x2="1235.80" y2="1237.30" stroke="#333333" stroke-width="3.2"/>
<text transform="translate(1255.40,1297.00) rotate(-90)" font-size="28.1" fill="#4D4D4D" text-anchor="middle">B1_G4</text>
<line x1="1253.74" y1="1228.95" x2="1253.74" y2="1237.30" stroke="#333333" stroke-width="3.2"/>
<text transform="translate(1273.34,1297.00) rotate(-90)" font-size="28.1" fill="#4D4D4D" text-anchor="middle">B1_G5</text>
<line x1="1271.68" y1="1228.95" x2="1271.68" y2="1237.30" stroke="#333333" stroke-width="3.2"/>
<text transform="translate(1291.28,1297.00) rotate(-90)" font-size="28.1" fill="#4D4D4D" text-anchor="middle">B1_G6</text>
<line x1="1289.62" y1="1228.95" x2="1289.62" y2="1237.30" stroke="#333333" stroke-width="3.2"/>
<text transform="translate(1309.22,1297.00) rotate(-90)" font-size="28.1" fill="#4D4D4D" text-anchor="middle">B1_G7</text>
<line x1="1307.56" y1="1228.95" x2="1307.56" y2="1237.30" stroke="#333333" stroke-width="3.2"/>
<text transform="translate(1327.16,1297.00) rotate(-90)" font-size="28.1" fill="#4D4D4D" text-anchor="middle">B1_G8</text>
<line x1="1325.50" y1="1228.95" x2="1325.50" y2="1237.30" stroke="#333333" stroke-width="3.2"/>
<text transform="translate(1345.10,1297.00) rotate(-90)" font-size="28.1" fill="#4D4D4D" text-anchor="middle">C1_G10</text>
<line x1="1343.44" y1="1228.95" x2="1343.44" y2="1237.30" stroke="#333333" stroke-width="3.2"/>
<text transform="translate(1363.04,1297.00) rotate(-90)" font-size="28.1" fill="#4D4D4D" text-anchor="middle">C1_G3</text>
<line x1="1361.39" y1="1228.95" x2="1361.39" y2="1237.30" stroke="#333333" stroke-width="3.2"/>
<text transform="translate(1380.99,1297.00) rotate(-90)" font-size="28.1" fill="#4D4D4D" text-anchor="middle">C1_G4</text>
<line x1="1379.33" y1="1228.95" x2="1379.33" y2="1237.30" stroke="#333333" stroke-width="3.2"/>
<text transform="translate(1398.93,1297.00) rotate(-90)" font-size="28.1" fill="#4D4D4D" text-anchor="middle">C1_G5</text>
<line x1="1397.27" y1="1228.95" x2="1397.27" y2="1237.30" stroke="#333333" stroke-width="3.2"/>
<text transform="translate(1416.87,1297.00) rotate(-90)" font-size="28.1" fill="#4D4D4D" text-anchor="middle">C1_G8</text>
<line x1="1415.21" y1="1228.95" x2="1415.21" y2="1237.30" stroke="#333333" stroke-width="3.2"/>
<text transform="translate(1434.81,1297.00) rotate(-90)" font-size="28.1" fill="#4D4D4D" text-anchor="middle">C1_G9</text>
<line x1="1433.15" y1="1228.95" x2="1433.15" y2="1237.30" stroke="#333333" stroke-width="3.2"/>
<text transform="translate(1452.75,1297.00) rotate(-90)" font-size="28.1" fill="#4D4D4D" text-anchor="middle">D1_G2</text>
<line x1="1451.09" y1="1228.95" x2="1451.09" y2="1237.30" stroke="#333333" stroke-width="3.2"/>
<text transform="translate(1470.69,1297.00) rotate(-90)" font-size="28.1" fill="#4D4D4D" text-anchor="middle">D1_G3</text>
<line x1="1469.03" y1="1228.95" x2="1469.03" y2="1237.30" stroke="#333333" stroke-width="3.2"/>
<text transform="translate(1488.63,1297.00) rotate(-90)" font-size="28.1" fill="#4D4D4D" text-anchor="middle">D1_G9</text>
<text x="1235.95" y="968.10" font-size="30.5" fill="#000" text-anchor="middle">C551</text>
<rect x="1680.75" y="998.75" width="79.38" height="109.65" fill="#629FCB"/>
<rect x="1759.63" y="998.75" width="79.38" height="109.65" fill="#EAADA1"/>
<rect x="1838.52" y="998.75" width="79.38" height="109.65" fill="#CB5A4B"/>
<rect x="1917.40" y="998.75" width="79.38" height="109.65" fill="#E0EBF4"/>
<rect x="1996.28" y="998.75" width="79.38" height="109.65" fill="#66A6CD"/>
<rect x="2075.17" y="998.75" width="79.38" height="109.65" fill="#E0EBF4"/>
<rect x="1680.75" y="1107.90" width="79.38" height="109.65" fill="#B9D6E9"/>
<rect x="1759.63" y="1107.90" width="79.38" height="109.65" fill="#629FCB"/>
<rect x="1838.52" y="1107.90" width="79.38" height="109.65" fill="#629FCB"/>
<rect x="1917.40" y="1107.90" width="79.38" height="109.65" fill="#5593C6"/>
<rect x="1996.28" y="1107.90" width="79.38" height="109.65" fill="#5593C6"/>
<rect x="2075.17" y="1107.90" width="79.38" height="109.65" fill="#609FCB"/>
<rect x="1674.20" y="989.00" width="487.00" height="238.80" fill="none" stroke="#333333" stroke-width="2.3"/>
<line x1="1664.70" y1="1053.58" x2="1673.05" y2="1053.58" stroke="#333333" stroke-width="3.2"/>
<text x="1656.10" y="1063.53" font-size="27.8" fill="#4D4D4D" text-anchor="end">NFYC</text>
<line x1="1664.70" y1="1162.72" x2="1673.05" y2="1162.72" stroke="#333333" stroke-width="3.2"/>
<text x="1656.10" y="1172.68" font-size="27.8" fill="#4D4D4D" text-anchor="end">ERAP2</text>
<line x1="1720.44" y1="1228.95" x2="1720.44" y2="1237.30" stroke="#333333" stroke-width="3.2"/>
<text transform="translate(1740.04,1290.80) rotate(-90)" font-size="28.1" fill="#4D4D4D" text-anchor="middle">C1_G3</text>
<line x1="1799.33" y1="1228.95" x2="1799.33" y2="1237.30" stroke="#333333" stroke-width="3.2"/>
<text transform="translate(1818.92,1290.80) rotate(-90)" font-size="28.1" fill="#4D4D4D" text-anchor="middle">C1_G5</text>
<line x1="1878.21" y1="1228.95" x2="1878.21" y2="1237.30" stroke="#333333" stroke-width="3.2"/>
<text transform="translate(1897.81,1290.80) rotate(-90)" font-size="28.1" fill="#4D4D4D" text-anchor="middle">D1_G5</text>
<line x1="1957.09" y1="1228.95" x2="1957.09" y2="1237.30" stroke="#333333" stroke-width="3.2"/>
<text transform="translate(1976.69,1290.80) rotate(-90)" font-size="28.1" fill="#4D4D4D" text-anchor="middle">D1_G7</text>
<line x1="2035.98" y1="1228.95" x2="2035.98" y2="1237.30" stroke="#333333" stroke-width="3.2"/>
<text transform="translate(2055.58,1290.80) rotate(-90)" font-size="28.1" fill="#4D4D4D" text-anchor="middle">D1_G8</text>
<line x1="2114.86" y1="1228.95" x2="2114.86" y2="1237.30" stroke="#333333" stroke-width="3.2"/>
<text transform="translate(2134.46,1290.80) rotate(-90)" font-size="28.1" fill="#4D4D4D" text-anchor="middle">D1_G9</text>
<text x="1917.70" y="968.30" font-size="30.5" fill="#000" text-anchor="middle">C552</text>
<defs><linearGradient id="rdbu" x1="0" y1="0" x2="0" y2="1"><stop offset="0" stop-color="#B2182B"/><stop offset="0.117" stop-color="#C8463F"/><stop offset="0.25" stop-color="#E6988B"/><stop offset="0.378" stop-color="#F4CDC4"/><stop offset="0.44" stop-color="#FBEAE6"/><stop offset="0.5" stop-color="#FFFFFF"/><stop offset="0.535" stop-color="#D5E6F1"/><stop offset="0.561" stop-color="#A9CDE4"/><stop offset="0.588" stop-color="#7DB5D9"/><stop offset="0.614" stop-color="#66A7D1"/><stop offset="0.75" stop-color="#4E8FC5"/><stop offset="1" stop-color="#2166AC"/></linearGradient></defs>
<rect x="1955.30" y="139.40" width="48.30" height="239.70" fill="url(#rdbu)"/>
<line x1="1955.30" y1="139.80" x2="1964.80" y2="139.80" stroke="#FFFFFF" stroke-width="1.4"/>
<line x1="1993.80" y1="139.80" x2="2003.60" y2="139.80" stroke="#FFFFFF" stroke-width="1.4"/>
<text x="2023.50" y="150.70" font-size="30.5" fill="#000" text-anchor="start">1.0</text>
<line x1="1955.30" y1="199.50" x2="1964.80" y2="199.50" stroke="#FFFFFF" stroke-width="1.4"/>
<line x1="1993.80" y1="199.50" x2="2003.60" y2="199.50" stroke="#FFFFFF" stroke-width="1.4"/>
<text x="2023.50" y="210.40" font-size="30.5" fill="#000" text-anchor="start">0.5</text>
<line x1="1955.30" y1="259.20" x2="1964.80" y2="259.20" stroke="#FFFFFF" stroke-width="1.4"/>
<line x1="1993.80" y1="259.20" x2="2003.60" y2="259.20" stroke="#FFFFFF" stroke-width="1.4"/>
<text x="2023.50" y="270.10" font-size="30.5" fill="#000" text-anchor="start">0.0</text>
<line x1="1955.30" y1="318.90" x2="1964.80" y2="318.90" stroke="#FFFFFF" stroke-width="1.4"/>
<line x1="1993.80" y1="318.90" x2="2003.60" y2="318.90" stroke="#FFFFFF" stroke-width="1.4"/>
<text x="2023.50" y="329.80" font-size="30.5" fill="#000" text-anchor="start">−0.5</text>
<line x1="1955.30" y1="378.60" x2="1964.80" y2="378.60" stroke="#FFFFFF" stroke-width="1.4"/>
<line x1="1993.80" y1="378.60" x2="2003.60" y2="378.60" stroke="#FFFFFF" stroke-width="1.4"/>
<text x="2023.50" y="389.50" font-size="30.5" fill="#000" text-anchor="start">−1.0</text>
<text x="1736.70" y="224.00" font-size="38.8" fill="#000" text-anchor="start">Normalised</text>
<text x="1736.70" y="264.50" font-size="38.8" fill="#000" text-anchor="start">expression</text>
<text x="1736.70" y="306.00" font-size="38.8" fill="#000" text-anchor="start">(log2)</text>
<rect x="279.00" y="1388.80" width="38.95" height="32.84" fill="#FFFFE5"/>
<rect x="317.35" y="1388.80" width="38.95" height="32.84" fill="#FFFFE5"/>
<rect x="355.70" y="1388.80" width="38.95" height="32.84" fill="#FFFFE5"/>
<rect x="394.05" y="1388.80" width="38.95" height="32.84" fill="#FFFFE5"/>
<rect x="432.40" y="1388.80" width="38.95" height="32.84" fill="#FFFFE5"/>
<rect x="470.75" y="1388.80" width="38.95" height="32.84" fill="#FFFFE5"/>
<rect x="509.10" y="1388.80" width="38.95" height="32.84" fill="#FFFCD9"/>
<rect x="547.45" y="1388.80" width="38.95" height="32.84" fill="#FEECB2"/>
<rect x="585.80" y="1388.80" width="38.95" height="32.84" fill="#FFFDDC"/>
<rect x="279.00" y="1421.04" width="38.95" height="32.84" fill="#FFFFE5"/>
<rect x="317.35" y="1421.04" width="38.95" height="32.84" fill="#FFFFE5"/>
<rect x="355.70" y="1421.04" width="38.95" height="32.84" fill="#FFFFE5"/>
<rect x="394.05" y="1421.04" width="38.95" height="32.84" fill="#FEDB86"/>
<rect x="432.40" y="1421.04" width="38.95" height="32.84" fill="#FFFFE5"/>
<rect x="470.75" y="1421.04" width="38.95" height="32.84" fill="#FEDE8C"/>
<rect x="509.10" y="1421.04" width="38.95" height="32.84" fill="#FFFFE5"/>
<rect x="547.45" y="1421.04" width="38.95" height="32.84" fill="#FFFFE5"/>
<rect x="585.80" y="1421.04" width="38.95" height="32.84" fill="#FFFFE5"/>
<rect x="279.00" y="1453.28" width="38.95" height="32.84" fill="#FFFFE5"/>
<rect x="317.35" y="1453.28" width="38.95" height="32.84" fill="#FFFFE5"/>
<rect x="355.70" y="1453.28" width="38.95" height="32.84" fill="#FFFFE5"/>
<rect x="394.05" y="1453.28" width="38.95" height="32.84" fill="#FFFFE5"/>
<rect x="432.40" y="1453.28" width="38.95" height="32.84" fill="#FFFFE5"/>
<rect x="470.75" y="1453.28" width="38.95" height="32.84" fill="#FFFFE5"/>
<rect x="509.10" y="1453.28" width="38.95" height="32.84" fill="#FFFAD4"/>
<rect x="547.45" y="1453.28" width="38.95" height="32.84" fill="#FFFFE5"/>
<rect x="585.80" y="1453.28" width="38.95" height="32.84" fill="#FFFBD6"/>
<rect x="279.00" y="1485.52" width="38.95" height="32.84" fill="#FFFFE5"/>
<rect x="317.35" y="1485.52" width="38.95" height="32.84" fill="#FFFDDC"/>
<rect x="355.70" y="1485.52" width="38.95" height="32.84" fill="#FEE7A4"/>
<rect x="394.05" y="1485.52" width="38.95" height="32.84" fill="#EC542F"/>
<rect x="432.40" y="1485.52" width="38.95" height="32.84" fill="#FFFFE5"/>
<rect x="470.75" y="1485.52" width="38.95" height="32.84" fill="#FFFFE5"/>
<rect x="509.10" y="1485.52" width="38.95" height="32.84" fill="#FFFFE5"/>
<rect x="547.45" y="1485.52" width="38.95" height="32.84" fill="#FFFCD9"/>
<rect x="585.80" y="1485.52" width="38.95" height="32.84" fill="#FFFEE2"/>
<rect x="279.00" y="1517.76" width="38.95" height="32.84" fill="#FFFFE5"/>
<rect x="317.35" y="1517.76" width="38.95" height="32.84" fill="#FFFFE5"/>
<rect x="355.70" y="1517.76" width="38.95" height="32.84" fill="#FFFFE5"/>
<rect x="394.05" y="1517.76" width="38.95" height="32.84" fill="#FEDE8C"/>
<rect x="432.40" y="1517.76" width="38.95" height="32.84" fill="#FFFFE5"/>
<rect x="470.75" y="1517.76" width="38.95" height="32.84" fill="#FFFFE5"/>
<rect x="509.10" y="1517.76" width="38.95" height="32.84" fill="#FEF0B9"/>
<rect x="547.45" y="1517.76" width="38.95" height="32.84" fill="#FFFFE5"/>
<rect x="585.80" y="1517.76" width="38.95" height="32.84" fill="#FFFCD9"/>
<rect x="279.00" y="1550.00" width="38.95" height="32.84" fill="#FFFFE5"/>
<rect x="317.35" y="1550.00" width="38.95" height="32.84" fill="#FFFFE5"/>
<rect x="355.70" y="1550.00" width="38.95" height="32.84" fill="#FFFFE5"/>
<rect x="394.05" y="1550.00" width="38.95" height="32.84" fill="#FFFFE5"/>
<rect x="432.40" y="1550.00" width="38.95" height="32.84" fill="#FFFFE5"/>
<rect x="470.75" y="1550.00" width="38.95" height="32.84" fill="#FFFFE5"/>
<rect x="509.10" y="1550.00" width="38.95" height="32.84" fill="#FFFFE5"/>
<rect x="547.45" y="1550.00" width="38.95" height="32.84" fill="#FFFFE5"/>
<rect x="585.80" y="1550.00" width="38.95" height="32.84" fill="#FFFFE5"/>
<rect x="279.00" y="1582.24" width="38.95" height="32.84" fill="#FFFFE5"/>
<rect x="317.35" y="1582.24" width="38.95" height="32.84" fill="#FFFFE5"/>
<rect x="355.70" y="1582.24" width="38.95" height="32.84" fill="#FFFFE5"/>
<rect x="394.05" y="1582.24" width="38.95" height="32.84" fill="#FFFFE5"/>
<rect x="432.40" y="1582.24" width="38.95" height="32.84" fill="#FFFFE5"/>
<rect x="470.75" y="1582.24" width="38.95" height="32.84" fill="#FFFFE5"/>
<rect x="509.10" y="1582.24" width="38.95" height="32.84" fill="#FEDB86"/>
<rect x="547.45" y="1582.24" width="38.95" height="32.84" fill="#FFFDDF"/>
<rect x="585.80" y="1582.24" width="38.95" height="32.84" fill="#FFFCD9"/>
<rect x="279.00" y="1614.48" width="38.95" height="32.84" fill="#FFFFE5"/>
<rect x="317.35" y="1614.48" width="38.95" height="32.84" fill="#FFFFE5"/>
<rect x="355.70" y="1614.48" width="38.95" height="32.84" fill="#FFFFE5"/>
<rect x="394.05" y="1614.48" width="38.95" height="32.84" fill="#F68B48"/>
<rect x="432.40" y="1614.48" width="38.95" height="32.84" fill="#FFFFE5"/>
<rect x="470.75" y="1614.48" width="38.95" height="32.84" fill="#FFFFE5"/>
<rect x="509.10" y="1614.48" width="38.95" height="32.84" fill="#FFFFE5"/>
<rect x="547.45" y="1614.48" width="38.95" height="32.84" fill="#FFFFE5"/>
<rect x="585.80" y="1614.48" width="38.95" height="32.84" fill="#FFFCD9"/>
<rect x="279.00" y="1646.72" width="38.95" height="32.84" fill="#FFFFE5"/>
<rect x="317.35" y="1646.72" width="38.95" height="32.84" fill="#FFF2BE"/>
<rect x="355.70" y="1646.72" width="38.95" height="32.84" fill="#FFFFE5"/>
<rect x="394.05" y="1646.72" width="38.95" height="32.84" fill="#FFF2BE"/>
<rect x="432.40" y="1646.72" width="38.95" height="32.84" fill="#FFFFE5"/>
<rect x="470.75" y="1646.72" width="38.95" height="32.84" fill="#FFFFE5"/>
<rect x="509.10" y="1646.72" width="38.95" height="32.84" fill="#FFFFE5"/>
<rect x="547.45" y="1646.72" width="38.95" height="32.84" fill="#FEDB86"/>
<rect x="585.80" y="1646.72" width="38.95" height="32.84" fill="#FFFFE5"/>
<rect x="279.00" y="1678.96" width="38.95" height="32.84" fill="#FFFFE5"/>
<rect x="317.35" y="1678.96" width="38.95" height="32.84" fill="#FFFFE5"/>
<rect x="355.70" y="1678.96" width="38.95" height="32.84" fill="#FFFFE5"/>
<rect x="394.05" y="1678.96" width="38.95" height="32.84" fill="#FFFFE5"/>
<rect x="432.40" y="1678.96" width="38.95" height="32.84" fill="#FFFFE5"/>
<rect x="470.75" y="1678.96" width="38.95" height="32.84" fill="#FFFFE5"/>
<rect x="509.10" y="1678.96" width="38.95" height="32.84" fill="#FEDB86"/>
<rect x="547.45" y="1678.96" width="38.95" height="32.84" fill="#FFFFE5"/>
<rect x="585.80" y="1678.96" width="38.95" height="32.84" fill="#FFFFE5"/>
<rect x="279.00" y="1711.20" width="38.95" height="32.84" fill="#FFFFE5"/>
<rect x="317.35" y="1711.20" width="38.95" height="32.84" fill="#FFFFE5"/>
<rect x="355.70" y="1711.20" width="38.95" height="32.84" fill="#FFFFE5"/>
<rect x="394.05" y="1711.20" width="38.95" height="32.84" fill="#FFFFE5"/>
<rect x="432.40" y="1711.20" width="38.95" height="32.84" fill="#FFFFE5"/>
<rect x="470.75" y="1711.20" width="38.95" height="32.84" fill="#FFFFE5"/>
<rect x="509.10" y="1711.20" width="38.95" height="32.84" fill="#FFFFE5"/>
<rect x="547.45" y="1711.20" width="38.95" height="32.84" fill="#FFFFE5"/>
<rect x="585.80" y="1711.20" width="38.95" height="32.84" fill="#FFFDDF"/>
<rect x="279.00" y="1743.44" width="38.95" height="32.84" fill="#FFFFE5"/>
<rect x="317.35" y="1743.44" width="38.95" height="32.84" fill="#FFFFE5"/>
<rect x="355.70" y="1743.44" width="38.95" height="32.84" fill="#FFFFE5"/>
<rect x="394.05" y="1743.44" width="38.95" height="32.84" fill="#FFFCD9"/>
<rect x="432.40" y="1743.44" width="38.95" height="32.84" fill="#FFFFE5"/>
<rect x="470.75" y="1743.44" width="38.95" height="32.84" fill="#FFFFE5"/>
<rect x="509.10" y="1743.44" width="38.95" height="32.84" fill="#FFFFE5"/>
<rect x="547.45" y="1743.44" width="38.95" height="32.84" fill="#FEE6A1"/>
<rect x="585.80" y="1743.44" width="38.95" height="32.84" fill="#FFF5C3"/>
<rect x="279.00" y="1775.68" width="38.95" height="32.84" fill="#FFFFE5"/>
<rect x="317.35" y="1775.68" width="38.95" height="32.84" fill="#FFFFE5"/>
<rect x="355.70" y="1775.68" width="38.95" height="32.84" fill="#FFFDDC"/>
<rect x="394.05" y="1775.68" width="38.95" height="32.84" fill="#FFFFE5"/>
<rect x="432.40" y="1775.68" width="38.95" height="32.84" fill="#FFFFE5"/>
<rect x="470.75" y="1775.68" width="38.95" height="32.84" fill="#FFF7C8"/>
<rect x="509.10" y="1775.68" width="38.95" height="32.84" fill="#FFFFE5"/>
<rect x="547.45" y="1775.68" width="38.95" height="32.84" fill="#FFFFE5"/>
<rect x="585.80" y="1775.68" width="38.95" height="32.84" fill="#FFFFE5"/>
<rect x="279.00" y="1807.92" width="38.95" height="32.84" fill="#FFFFE5"/>
<rect x="317.35" y="1807.92" width="38.95" height="32.84" fill="#FFFFE5"/>
<rect x="355.70" y="1807.92" width="38.95" height="32.84" fill="#FFFFE5"/>
<rect x="394.05" y="1807.92" width="38.95" height="32.84" fill="#FFFFE5"/>
<rect x="432.40" y="1807.92" width="38.95" height="32.84" fill="#FFFFE5"/>
<rect x="470.75" y="1807.92" width="38.95" height="32.84" fill="#FFFFE5"/>
<rect x="509.10" y="1807.92" width="38.95" height="32.84" fill="#FFFFE5"/>
<rect x="547.45" y="1807.92" width="38.95" height="32.84" fill="#FEEDB4"/>
<rect x="585.80" y="1807.92" width="38.95" height="32.84" fill="#FFFCD9"/>
<rect x="279.00" y="1840.16" width="38.95" height="32.84" fill="#FFFFE5"/>
<rect x="317.35" y="1840.16" width="38.95" height="32.84" fill="#FFFFE5"/>
<rect x="355.70" y="1840.16" width="38.95" height="32.84" fill="#FFFFE5"/>
<rect x="394.05" y="1840.16" width="38.95" height="32.84" fill="#FFFFE5"/>
<rect x="432.40" y="1840.16" width="38.95" height="32.84" fill="#FFFFE5"/>
<rect x="470.75" y="1840.16" width="38.95" height="32.84" fill="#FFFDDF"/>
<rect x="509.10" y="1840.16" width="38.95" height="32.84" fill="#FEEBAF"/>
<rect x="547.45" y="1840.16" width="38.95" height="32.84" fill="#FFFFE5"/>
<rect x="585.80" y="1840.16" width="38.95" height="32.84" fill="#FFFFE5"/>
<rect x="279.00" y="1872.40" width="38.95" height="32.84" fill="#FFFFE5"/>
<rect x="317.35" y="1872.40" width="38.95" height="32.84" fill="#FFFFE5"/>
<rect x="355.70" y="1872.40" width="38.95" height="32.84" fill="#FFFFE5"/>
<rect x="394.05" y="1872.40" width="38.95" height="32.84" fill="#FFFFE5"/>
<rect x="432.40" y="1872.40" width="38.95" height="32.84" fill="#FFFFE5"/>
<rect x="470.75" y="1872.40" width="38.95" height="32.84" fill="#FFFFE5"/>
<rect x="509.10" y="1872.40" width="38.95" height="32.84" fill="#FFFDDF"/>
<rect x="547.45" y="1872.40" width="38.95" height="32.84" fill="#FFFFE5"/>
<rect x="585.80" y="1872.40" width="38.95" height="32.84" fill="#FFFFE5"/>
<rect x="279.00" y="1904.64" width="38.95" height="32.84" fill="#FFFFE5"/>
<rect x="317.35" y="1904.64" width="38.95" height="32.84" fill="#FFFDDF"/>
<rect x="355.70" y="1904.64" width="38.95" height="32.84" fill="#FFFFE5"/>
<rect x="394.05" y="1904.64" width="38.95" height="32.84" fill="#FFFDDF"/>
<rect x="432.40" y="1904.64" width="38.95" height="32.84" fill="#FFFFE5"/>
<rect x="470.75" y="1904.64" width="38.95" height="32.84" fill="#FEEBAF"/>
<rect x="509.10" y="1904.64" width="38.95" height="32.84" fill="#FEDB86"/>
<rect x="547.45" y="1904.64" width="38.95" height="32.84" fill="#FFFDDF"/>
<rect x="585.80" y="1904.64" width="38.95" height="32.84" fill="#FFF7C8"/>
<rect x="279.00" y="1936.88" width="38.95" height="32.84" fill="#FFFFE5"/>
<rect x="317.35" y="1936.88" width="38.95" height="32.84" fill="#FFFFE5"/>
<rect x="355.70" y="1936.88" width="38.95" height="32.84" fill="#FFFFE5"/>
<rect x="394.05" y="1936.88" width="38.95" height="32.84" fill="#FFFFE5"/>
<rect x="432.40" y="1936.88" width="38.95" height="32.84" fill="#FFFFE5"/>
<rect x="470.75" y="1936.88" width="38.95" height="32.84" fill="#FFFEE2"/>
<rect x="509.10" y="1936.88" width="38.95" height="32.84" fill="#FFFFE5"/>
<rect x="547.45" y="1936.88" width="38.95" height="32.84" fill="#FFFFE5"/>
<rect x="585.80" y="1936.88" width="38.95" height="32.84" fill="#FFF8CB"/>
<rect x="279.00" y="1969.12" width="38.95" height="32.84" fill="#FFFFE5"/>
<rect x="317.35" y="1969.12" width="38.95" height="32.84" fill="#FFFFE5"/>
<rect x="355.70" y="1969.12" width="38.95" height="32.84" fill="#FFFFE5"/>
<rect x="394.05" y="1969.12" width="38.95" height="32.84" fill="#FFFFE5"/>
<rect x="432.40" y="1969.12" width="38.95" height="32.84" fill="#FFFFE5"/>
<rect x="470.75" y="1969.12" width="38.95" height="32.84" fill="#FFF2BE"/>
<rect x="509.10" y="1969.12" width="38.95" height="32.84" fill="#FFFDDF"/>
<rect x="547.45" y="1969.12" width="38.95" height="32.84" fill="#FEE8A8"/>
<rect x="585.80" y="1969.12" width="38.95" height="32.84" fill="#FFF8CB"/>
<rect x="279.00" y="2001.36" width="38.95" height="32.84" fill="#FFFAD4"/>
<rect x="317.35" y="2001.36" width="38.95" height="32.84" fill="#FFFFE5"/>
<rect x="355.70" y="2001.36" width="38.95" height="32.84" fill="#FFFFE5"/>
<rect x="394.05" y="2001.36" width="38.95" height="32.84" fill="#FFFFE5"/>
<rect x="432.40" y="2001.36" width="38.95" height="32.84" fill="#FFFFE5"/>
<rect x="470.75" y="2001.36" width="38.95" height="32.84" fill="#FFFFE5"/>
<rect x="509.10" y="2001.36" width="38.95" height="32.84" fill="#FFFDDF"/>
<rect x="547.45" y="2001.36" width="38.95" height="32.84" fill="#FBB65C"/>
<rect x="585.80" y="2001.36" width="38.95" height="32.84" fill="#FFF9D1"/>
<rect x="279.00" y="2033.60" width="38.95" height="32.84" fill="#FFFFE5"/>
<rect x="317.35" y="2033.60" width="38.95" height="32.84" fill="#FFFFE5"/>
<rect x="355.70" y="2033.60" width="38.95" height="32.84" fill="#FFFFE5"/>
<rect x="394.05" y="2033.60" width="38.95" height="32.84" fill="#FFFFE5"/>
<rect x="432.40" y="2033.60" width="38.95" height="32.84" fill="#FFFFE5"/>
<rect x="470.75" y="2033.60" width="38.95" height="32.84" fill="#FFFFE5"/>
<rect x="509.10" y="2033.60" width="38.95" height="32.84" fill="#FFFFE5"/>
<rect x="547.45" y="2033.60" width="38.95" height="32.84" fill="#FFF7C8"/>
<rect x="585.80" y="2033.60" width="38.95" height="32.84" fill="#FFFFE5"/>
<rect x="279.00" y="2065.84" width="38.95" height="32.84" fill="#FFFAD4"/>
<rect x="317.35" y="2065.84" width="38.95" height="32.84" fill="#FFFFE5"/>
<rect x="355.70" y="2065.84" width="38.95" height="32.84" fill="#FFFFE5"/>
<rect x="394.05" y="2065.84" width="38.95" height="32.84" fill="#FEF1BC"/>
<rect x="432.40" y="2065.84" width="38.95" height="32.84" fill="#FFFFE5"/>
<rect x="470.75" y="2065.84" width="38.95" height="32.84" fill="#FEDB86"/>
<rect x="509.10" y="2065.84" width="38.95" height="32.84" fill="#FFF8CB"/>
<rect x="547.45" y="2065.84" width="38.95" height="32.84" fill="#FAA955"/>
<rect x="585.80" y="2065.84" width="38.95" height="32.84" fill="#FFFFE5"/>
<rect x="279.00" y="2098.08" width="38.95" height="32.84" fill="#FFFFE5"/>
<rect x="317.35" y="2098.08" width="38.95" height="32.84" fill="#FFFFE5"/>
<rect x="355.70" y="2098.08" width="38.95" height="32.84" fill="#FFFFE5"/>
<rect x="394.05" y="2098.08" width="38.95" height="32.84" fill="#FFFFE5"/>
<rect x="432.40" y="2098.08" width="38.95" height="32.84" fill="#FEEDB4"/>
<rect x="470.75" y="2098.08" width="38.95" height="32.84" fill="#FEE8A8"/>
<rect x="509.10" y="2098.08" width="38.95" height="32.84" fill="#FEEBAF"/>
<rect x="547.45" y="2098.08" width="38.95" height="32.84" fill="#FFF9CE"/>
<rect x="585.80" y="2098.08" width="38.95" height="32.84" fill="#FEF0B9"/>
<rect x="279.00" y="2130.32" width="38.95" height="32.84" fill="#FFFFE5"/>
<rect x="317.35" y="2130.32" width="38.95" height="32.84" fill="#FEF1BC"/>
<rect x="355.70" y="2130.32" width="38.95" height="32.84" fill="#FEF1BC"/>
<rect x="394.05" y="2130.32" width="38.95" height="32.84" fill="#FFFFE5"/>
<rect x="432.40" y="2130.32" width="38.95" height="32.84" fill="#FFFFE5"/>
<rect x="470.75" y="2130.32" width="38.95" height="32.84" fill="#FFFFE5"/>
<rect x="509.10" y="2130.32" width="38.95" height="32.84" fill="#FFFFE5"/>
<rect x="547.45" y="2130.32" width="38.95" height="32.84" fill="#FFFFE5"/>
<rect x="585.80" y="2130.32" width="38.95" height="32.84" fill="#FFFFE5"/>
<rect x="279.00" y="2162.56" width="38.95" height="32.84" fill="#FEF0B9"/>
<rect x="317.35" y="2162.56" width="38.95" height="32.84" fill="#FEF0B9"/>
<rect x="355.70" y="2162.56" width="38.95" height="32.84" fill="#FFFFE5"/>
<rect x="394.05" y="2162.56" width="38.95" height="32.84" fill="#FFF9CE"/>
<rect x="432.40" y="2162.56" width="38.95" height="32.84" fill="#FFFFE5"/>
<rect x="470.75" y="2162.56" width="38.95" height="32.84" fill="#FEEBAF"/>
<rect x="509.10" y="2162.56" width="38.95" height="32.84" fill="#FFFFE5"/>
<rect x="547.45" y="2162.56" width="38.95" height="32.84" fill="#FEE6A1"/>
<rect x="585.80" y="2162.56" width="38.95" height="32.84" fill="#FFFFE5"/>
<rect x="279.00" y="2194.80" width="38.95" height="32.84" fill="#FFFFE5"/>
<rect x="317.35" y="2194.80" width="38.95" height="32.84" fill="#FFFFE5"/>
<rect x="355.70" y="2194.80" width="38.95" height="32.84" fill="#FFFFE5"/>
<rect x="394.05" y="2194.80" width="38.95" height="32.84" fill="#FFFFE5"/>
<rect x="432.40" y="2194.80" width="38.95" height="32.84" fill="#FFFEE2"/>
<rect x="470.75" y="2194.80" width="38.95" height="32.84" fill="#FFFFE5"/>
<rect x="509.10" y="2194.80" width="38.95" height="32.84" fill="#FFFFE5"/>
<rect x="547.45" y="2194.80" width="38.95" height="32.84" fill="#E31A1C"/>
<rect x="585.80" y="2194.80" width="38.95" height="32.84" fill="#FFF7C8"/>
<rect x="279.00" y="2227.04" width="38.95" height="32.84" fill="#FFFFE5"/>
<rect x="317.35" y="2227.04" width="38.95" height="32.84" fill="#FFFFE5"/>
<rect x="355.70" y="2227.04" width="38.95" height="32.84" fill="#FFFFE5"/>
<rect x="394.05" y="2227.04" width="38.95" height="32.84" fill="#FFFFE5"/>
<rect x="432.40" y="2227.04" width="38.95" height="32.84" fill="#FFFFE5"/>
<rect x="470.75" y="2227.04" width="38.95" height="32.84" fill="#FFFFE5"/>
<rect x="509.10" y="2227.04" width="38.95" height="32.84" fill="#FFFAD4"/>
<rect x="547.45" y="2227.04" width="38.95" height="32.84" fill="#FFFFE5"/>
<rect x="585.80" y="2227.04" width="38.95" height="32.84" fill="#FFF7C8"/>
<rect x="279.00" y="2259.28" width="38.95" height="32.84" fill="#FFFFE5"/>
<rect x="317.35" y="2259.28" width="38.95" height="32.84" fill="#FFFFE5"/>
<rect x="355.70" y="2259.28" width="38.95" height="32.84" fill="#FFFFE5"/>
<rect x="394.05" y="2259.28" width="38.95" height="32.84" fill="#FFFFE5"/>
<rect x="432.40" y="2259.28" width="38.95" height="32.84" fill="#FFFFE5"/>
<rect x="470.75" y="2259.28" width="38.95" height="32.84" fill="#FFFFE5"/>
<rect x="509.10" y="2259.28" width="38.95" height="32.84" fill="#FEF1BC"/>
<rect x="547.45" y="2259.28" width="38.95" height="32.84" fill="#F16F3C"/>
<rect x="585.80" y="2259.28" width="38.95" height="32.84" fill="#FFFFE5"/>
<rect x="279.00" y="2291.52" width="38.95" height="32.84" fill="#FFFFE5"/>
<rect x="317.35" y="2291.52" width="38.95" height="32.84" fill="#FED87F"/>
<rect x="355.70" y="2291.52" width="38.95" height="32.84" fill="#FFFFE5"/>
<rect x="394.05" y="2291.52" width="38.95" height="32.84" fill="#FFFDDC"/>
<rect x="432.40" y="2291.52" width="38.95" height="32.84" fill="#FFFFE5"/>
<rect x="470.75" y="2291.52" width="38.95" height="32.84" fill="#FFF9CE"/>
<rect x="509.10" y="2291.52" width="38.95" height="32.84" fill="#FFFCD9"/>
<rect x="547.45" y="2291.52" width="38.95" height="32.84" fill="#FFFAD4"/>
<rect x="585.80" y="2291.52" width="38.95" height="32.84" fill="#FFF9CE"/>
<rect x="279.00" y="2323.76" width="38.95" height="32.84" fill="#FFFFE5"/>
<rect x="317.35" y="2323.76" width="38.95" height="32.84" fill="#FFFFE5"/>
<rect x="355.70" y="2323.76" width="38.95" height="32.84" fill="#FEEDB4"/>
<rect x="394.05" y="2323.76" width="38.95" height="32.84" fill="#FFFFE5"/>
<rect x="432.40" y="2323.76" width="38.95" height="32.84" fill="#FEEDB4"/>
<rect x="470.75" y="2323.76" width="38.95" height="32.84" fill="#FFFFE5"/>
<rect x="509.10" y="2323.76" width="38.95" height="32.84" fill="#FFFFE5"/>
<rect x="547.45" y="2323.76" width="38.95" height="32.84" fill="#FFF8CB"/>
<rect x="585.80" y="2323.76" width="38.95" height="32.84" fill="#FFF8CB"/>
<rect x="279.00" y="2356.00" width="38.95" height="32.84" fill="#FFFFE5"/>
<rect x="317.35" y="2356.00" width="38.95" height="32.84" fill="#FFFFE5"/>
<rect x="355.70" y="2356.00" width="38.95" height="32.84" fill="#FFFFE5"/>
<rect x="394.05" y="2356.00" width="38.95" height="32.84" fill="#FFFFE5"/>
<rect x="432.40" y="2356.00" width="38.95" height="32.84" fill="#FFFFE5"/>
<rect x="470.75" y="2356.00" width="38.95" height="32.84" fill="#FFFFE5"/>
<rect x="509.10" y="2356.00" width="38.95" height="32.84" fill="#FFFFE5"/>
<rect x="547.45" y="2356.00" width="38.95" height="32.84" fill="#F06A39"/>
<rect x="585.80" y="2356.00" width="38.95" height="32.84" fill="#FFFDDF"/>
<rect x="279.00" y="2388.24" width="38.95" height="32.84" fill="#FFFFE5"/>
<rect x="317.35" y="2388.24" width="38.95" height="32.84" fill="#FFFFE5"/>
<rect x="355.70" y="2388.24" width="38.95" height="32.84" fill="#FFFCD9"/>
<rect x="394.05" y="2388.24" width="38.95" height="32.84" fill="#FFFFE5"/>
<rect x="432.40" y="2388.24" width="38.95" height="32.84" fill="#FFFFE5"/>
<rect x="470.75" y="2388.24" width="38.95" height="32.84" fill="#FFFFE5"/>
<rect x="509.10" y="2388.24" width="38.95" height="32.84" fill="#FFFFE5"/>
<rect x="547.45" y="2388.24" width="38.95" height="32.84" fill="#FAA552"/>
<rect x="585.80" y="2388.24" width="38.95" height="32.84" fill="#FFFFE5"/>
<rect x="279.00" y="2420.48" width="38.95" height="32.84" fill="#FEE8A8"/>
<rect x="317.35" y="2420.48" width="38.95" height="32.84" fill="#FFFFE5"/>
<rect x="355.70" y="2420.48" width="38.95" height="32.84" fill="#FFFFE5"/>
<rect x="394.05" y="2420.48" width="38.95" height="32.84" fill="#FFFDDF"/>
<rect x="432.40" y="2420.48" width="38.95" height="32.84" fill="#FFFFE5"/>
<rect x="470.75" y="2420.48" width="38.95" height="32.84" fill="#FEF0B9"/>
<rect x="509.10" y="2420.48" width="38.95" height="32.84" fill="#FEF0B9"/>
<rect x="547.45" y="2420.48" width="38.95" height="32.84" fill="#FFFFE5"/>
<rect x="585.80" y="2420.48" width="38.95" height="32.84" fill="#FFFFE5"/>
<rect x="471.95" y="1970.32" width="36.55" height="30.44" fill="none" stroke="#5B2C6F" stroke-width="1.8"/>
<rect x="472.35" y="1938.48" width="35.75" height="29.64" fill="none" stroke="#6A2E08" stroke-width="2.6"/>
<rect x="471.95" y="2324.96" width="36.55" height="30.44" fill="none" stroke="#5B2C6F" stroke-width="1.8"/>
<rect x="471.95" y="2421.68" width="36.55" height="30.44" fill="none" stroke="#5B2C6F" stroke-width="1.8"/>
<rect x="548.85" y="2196.20" width="36.15" height="30.04" fill="none" stroke="#6A2E08" stroke-width="2.2"/>
<path d="M404.9,1437.5H422.1M413.5,1428.9V1446.1M407.4,1431.4L419.6,1443.6M407.4,1443.6L419.6,1431.4" stroke="#000" stroke-width="2.5" fill="none"/>
<path d="M481.6,1437.5H498.8M490.2,1428.9V1446.1M484.1,1431.4L496.3,1443.6M484.1,1443.6L496.3,1431.4" stroke="#000" stroke-width="2.5" fill="none"/>
<path d="M404.9,1501.9H422.1M413.5,1493.3V1510.5M407.4,1495.8L419.6,1508.0M407.4,1508.0L419.6,1495.8" stroke="#000" stroke-width="2.5" fill="none"/>
<path d="M404.9,1534.2H422.1M413.5,1525.6V1542.8M407.4,1528.1L419.6,1540.3M407.4,1540.3L419.6,1528.1" stroke="#000" stroke-width="2.5" fill="none"/>
<path d="M520.0,1598.7H537.2M528.6,1590.1V1607.3M522.5,1592.6L534.7,1604.8M522.5,1604.8L534.7,1592.6" stroke="#000" stroke-width="2.5" fill="none"/>
<path d="M404.9,1630.9H422.1M413.5,1622.3V1639.5M407.4,1624.8L419.6,1637.0M407.4,1637.0L419.6,1624.8" stroke="#000" stroke-width="2.5" fill="none"/>
<path d="M558.3,1663.1H575.5M566.9,1654.5V1671.7M560.8,1657.0L573.0,1669.2M560.8,1669.2L573.0,1657.0" stroke="#000" stroke-width="2.5" fill="none"/>
<path d="M520.0,1695.4H537.2M528.6,1686.8V1704.0M522.5,1689.3L534.7,1701.5M522.5,1701.5L534.7,1689.3" stroke="#000" stroke-width="2.5" fill="none"/>
<path d="M520.0,1921.1H537.2M528.6,1912.5V1929.7M522.5,1915.0L534.7,1927.2M522.5,1927.2L534.7,1915.0" stroke="#000" stroke-width="2.5" fill="none"/>
<path d="M558.3,2017.8H575.5M566.9,2009.2V2026.4M560.8,2011.7L573.0,2023.9M560.8,2023.9L573.0,2011.7" stroke="#000" stroke-width="2.5" fill="none"/>
<path d="M481.6,2082.3H498.8M490.2,2073.7V2090.9M484.1,2076.2L496.3,2088.4M484.1,2088.4L496.3,2076.2" stroke="#000" stroke-width="2.5" fill="none"/>
<path d="M558.3,2082.3H575.5M566.9,2073.7V2090.9M560.8,2076.2L573.0,2088.4M560.8,2088.4L573.0,2076.2" stroke="#000" stroke-width="2.5" fill="none"/>
<path d="M558.3,2211.2H575.5M566.9,2202.6V2219.8M560.8,2205.1L573.0,2217.3M560.8,2217.3L573.0,2205.1" stroke="#000" stroke-width="2.5" fill="none"/>
<path d="M558.3,2275.7H575.5M566.9,2267.1V2284.3M560.8,2269.6L573.0,2281.8M560.8,2281.8L573.0,2269.6" stroke="#000" stroke-width="2.5" fill="none"/>
<path d="M328.2,2307.9H345.4M336.8,2299.3V2316.5M330.7,2301.8L342.9,2314.0M330.7,2314.0L342.9,2301.8" stroke="#000" stroke-width="2.5" fill="none"/>
<path d="M558.3,2372.4H575.5M566.9,2363.8V2381.0M560.8,2366.3L573.0,2378.5M560.8,2378.5L573.0,2366.3" stroke="#000" stroke-width="2.5" fill="none"/>
<path d="M558.3,2404.7H575.5M566.9,2396.1V2413.3M560.8,2398.6L573.0,2410.8M560.8,2410.8L573.0,2398.6" stroke="#000" stroke-width="2.5" fill="none"/>
<rect x="279.20" y="1386.30" width="345.70" height="1069.70" fill="none" stroke="#333333" stroke-width="3.4"/>
<line x1="269.20" y1="1405.22" x2="279.20" y2="1405.22" stroke="#333333" stroke-width="3.5"/>
<text x="260.60" y="1416.22" font-size="29.9" fill="#4D4D4D" text-anchor="end">TBK1</text>
<line x1="269.20" y1="1437.46" x2="279.20" y2="1437.46" stroke="#333333" stroke-width="3.5"/>
<text x="260.60" y="1448.46" font-size="29.9" fill="#4D4D4D" text-anchor="end">TAPBP</text>
<line x1="269.20" y1="1469.70" x2="279.20" y2="1469.70" stroke="#333333" stroke-width="3.5"/>
<text x="260.60" y="1480.70" font-size="29.9" fill="#4D4D4D" text-anchor="end">TAP1</text>
<line x1="269.20" y1="1501.94" x2="279.20" y2="1501.94" stroke="#333333" stroke-width="3.5"/>
<text x="260.60" y="1512.94" font-size="29.9" fill="#4D4D4D" text-anchor="end">RFXAP</text>
<line x1="269.20" y1="1534.18" x2="279.20" y2="1534.18" stroke="#333333" stroke-width="3.5"/>
<text x="260.60" y="1545.18" font-size="29.9" fill="#4D4D4D" text-anchor="end">RFXANK</text>
<line x1="269.20" y1="1566.42" x2="279.20" y2="1566.42" stroke="#333333" stroke-width="3.5"/>
<text x="260.60" y="1577.42" font-size="29.9" fill="#4D4D4D" text-anchor="end">RFX5</text>
<line x1="269.20" y1="1598.66" x2="279.20" y2="1598.66" stroke="#333333" stroke-width="3.5"/>
<text x="260.60" y="1609.66" font-size="29.9" fill="#4D4D4D" text-anchor="end">PSME3</text>
<line x1="269.20" y1="1630.90" x2="279.20" y2="1630.90" stroke="#333333" stroke-width="3.5"/>
<text x="260.60" y="1641.90" font-size="29.9" fill="#4D4D4D" text-anchor="end">PSME2</text>
<line x1="269.20" y1="1663.14" x2="279.20" y2="1663.14" stroke="#333333" stroke-width="3.5"/>
<text x="260.60" y="1674.14" font-size="29.9" fill="#4D4D4D" text-anchor="end">PSME1</text>
<line x1="269.20" y1="1695.38" x2="279.20" y2="1695.38" stroke="#333333" stroke-width="3.5"/>
<text x="260.60" y="1706.38" font-size="29.9" fill="#4D4D4D" text-anchor="end">PSMA7</text>
<line x1="269.20" y1="1727.62" x2="279.20" y2="1727.62" stroke="#333333" stroke-width="3.5"/>
<text x="260.60" y="1738.62" font-size="29.9" fill="#4D4D4D" text-anchor="end">NLRC5</text>
<line x1="269.20" y1="1759.86" x2="279.20" y2="1759.86" stroke="#333333" stroke-width="3.5"/>
<text x="260.60" y="1770.86" font-size="29.9" fill="#4D4D4D" text-anchor="end">NFYC</text>
<line x1="269.20" y1="1792.10" x2="279.20" y2="1792.10" stroke="#333333" stroke-width="3.5"/>
<text x="260.60" y="1803.10" font-size="29.9" fill="#4D4D4D" text-anchor="end">NFYB</text>
<line x1="269.20" y1="1824.34" x2="279.20" y2="1824.34" stroke="#333333" stroke-width="3.5"/>
<text x="260.60" y="1835.34" font-size="29.9" fill="#4D4D4D" text-anchor="end">NFYA</text>
<line x1="269.20" y1="1856.58" x2="279.20" y2="1856.58" stroke="#333333" stroke-width="3.5"/>
<text x="260.60" y="1867.58" font-size="29.9" fill="#4D4D4D" text-anchor="end">IRF1</text>
<line x1="269.20" y1="1888.82" x2="279.20" y2="1888.82" stroke="#333333" stroke-width="3.5"/>
<text x="260.60" y="1899.82" font-size="29.9" fill="#4D4D4D" text-anchor="end">HSPBP1</text>
<line x1="269.20" y1="1921.06" x2="279.20" y2="1921.06" stroke="#333333" stroke-width="3.5"/>
<text x="260.60" y="1932.06" font-size="29.9" fill="#4D4D4D" text-anchor="end">HSPA8</text>
<line x1="269.20" y1="1953.30" x2="279.20" y2="1953.30" stroke="#333333" stroke-width="3.5"/>
<text x="260.60" y="1964.30" font-size="29.9" fill="#4D4D4D" text-anchor="end">HSPA6</text>
<line x1="269.20" y1="1985.54" x2="279.20" y2="1985.54" stroke="#333333" stroke-width="3.5"/>
<text x="260.60" y="1996.54" font-size="29.9" fill="#4D4D4D" text-anchor="end">HSPA5</text>
<line x1="269.20" y1="2017.78" x2="279.20" y2="2017.78" stroke="#333333" stroke-width="3.5"/>
<text x="260.60" y="2028.78" font-size="29.9" fill="#4D4D4D" text-anchor="end">HSPA4</text>
<line x1="269.20" y1="2050.02" x2="279.20" y2="2050.02" stroke="#333333" stroke-width="3.5"/>
<text x="260.60" y="2061.02" font-size="29.9" fill="#4D4D4D" text-anchor="end">HSPA2</text>
<line x1="269.20" y1="2082.26" x2="279.20" y2="2082.26" stroke="#333333" stroke-width="3.5"/>
<text x="260.60" y="2093.26" font-size="29.9" fill="#4D4D4D" text-anchor="end">HSP90AB1</text>
<line x1="269.20" y1="2114.50" x2="279.20" y2="2114.50" stroke="#333333" stroke-width="3.5"/>
<text x="260.60" y="2125.50" font-size="29.9" fill="#4D4D4D" text-anchor="end">HSP90AA1</text>
<line x1="269.20" y1="2146.74" x2="279.20" y2="2146.74" stroke="#333333" stroke-width="3.5"/>
<text x="260.60" y="2157.74" font-size="29.9" fill="#4D4D4D" text-anchor="end">HLA−C</text>
<line x1="269.20" y1="2178.98" x2="279.20" y2="2178.98" stroke="#333333" stroke-width="3.5"/>
<text x="260.60" y="2189.98" font-size="29.9" fill="#4D4D4D" text-anchor="end">HLA−B</text>
<line x1="269.20" y1="2211.22" x2="279.20" y2="2211.22" stroke="#333333" stroke-width="3.5"/>
<text x="260.60" y="2222.22" font-size="29.9" fill="#4D4D4D" text-anchor="end">HLA−A</text>
<line x1="269.20" y1="2243.46" x2="279.20" y2="2243.46" stroke="#333333" stroke-width="3.5"/>
<text x="260.60" y="2254.46" font-size="29.9" fill="#4D4D4D" text-anchor="end">ERAP2</text>
<line x1="269.20" y1="2275.70" x2="279.20" y2="2275.70" stroke="#333333" stroke-width="3.5"/>
<text x="260.60" y="2286.70" font-size="29.9" fill="#4D4D4D" text-anchor="end">ERAP1</text>
<line x1="269.20" y1="2307.94" x2="279.20" y2="2307.94" stroke="#333333" stroke-width="3.5"/>
<text x="260.60" y="2318.94" font-size="29.9" fill="#4D4D4D" text-anchor="end">CREB1</text>
<line x1="269.20" y1="2340.18" x2="279.20" y2="2340.18" stroke="#333333" stroke-width="3.5"/>
<text x="260.60" y="2351.18" font-size="29.9" fill="#4D4D4D" text-anchor="end">CIITA</text>
<line x1="269.20" y1="2372.42" x2="279.20" y2="2372.42" stroke="#333333" stroke-width="3.5"/>
<text x="260.60" y="2383.42" font-size="29.9" fill="#4D4D4D" text-anchor="end">CANX</text>
<line x1="269.20" y1="2404.66" x2="279.20" y2="2404.66" stroke="#333333" stroke-width="3.5"/>
<text x="260.60" y="2415.66" font-size="29.9" fill="#4D4D4D" text-anchor="end">CALR</text>
<line x1="269.20" y1="2436.90" x2="279.20" y2="2436.90" stroke="#333333" stroke-width="3.5"/>
<text x="260.60" y="2447.90" font-size="29.9" fill="#4D4D4D" text-anchor="end">B2M</text>
<line x1="298.48" y1="2456.00" x2="298.48" y2="2465.50" stroke="#333333" stroke-width="3.5"/>
<text transform="translate(309.08,2476.00) rotate(-90)" font-size="29.9" fill="#4D4D4D" text-anchor="end">C538</text>
<line x1="336.83" y1="2456.00" x2="336.83" y2="2465.50" stroke="#333333" stroke-width="3.5"/>
<text transform="translate(347.43,2476.00) rotate(-90)" font-size="29.9" fill="#4D4D4D" text-anchor="end">C542</text>
<line x1="375.18" y1="2456.00" x2="375.18" y2="2465.50" stroke="#333333" stroke-width="3.5"/>
<text transform="translate(385.78,2476.00) rotate(-90)" font-size="29.9" fill="#4D4D4D" text-anchor="end">C543</text>
<line x1="413.52" y1="2456.00" x2="413.52" y2="2465.50" stroke="#333333" stroke-width="3.5"/>
<text transform="translate(424.12,2476.00) rotate(-90)" font-size="29.9" fill="#4D4D4D" text-anchor="end">C544</text>
<line x1="451.88" y1="2456.00" x2="451.88" y2="2465.50" stroke="#333333" stroke-width="3.5"/>
<text transform="translate(462.48,2476.00) rotate(-90)" font-size="29.9" fill="#4D4D4D" text-anchor="end">C551</text>
<line x1="490.23" y1="2456.00" x2="490.23" y2="2465.50" stroke="#333333" stroke-width="3.5"/>
<text transform="translate(500.83,2476.00) rotate(-90)" font-size="29.9" fill="#4D4D4D" text-anchor="end">C552</text>
<line x1="528.58" y1="2456.00" x2="528.58" y2="2465.50" stroke="#333333" stroke-width="3.5"/>
<text transform="translate(539.18,2476.00) rotate(-90)" font-size="29.9" fill="#4D4D4D" text-anchor="end">C554</text>
<line x1="566.92" y1="2456.00" x2="566.92" y2="2465.50" stroke="#333333" stroke-width="3.5"/>
<text transform="translate(577.52,2476.00) rotate(-90)" font-size="29.9" fill="#4D4D4D" text-anchor="end">C559</text>
<line x1="605.28" y1="2456.00" x2="605.28" y2="2465.50" stroke="#333333" stroke-width="3.5"/>
<text transform="translate(615.88,2476.00) rotate(-90)" font-size="29.9" fill="#4D4D4D" text-anchor="end">C560</text>
<text x="90.50" y="1400.50" font-size="56" font-weight="bold" style="font-family:'DejaVu Sans', 'Liberation Sans', sans-serif" fill="#000">d</text>
<defs><linearGradient id="ylo" x1="0" y1="1" x2="0" y2="0"><stop offset="0.0000" stop-color="#FFFFE5"/><stop offset="0.1355" stop-color="#FFF7C8"/><stop offset="0.2710" stop-color="#FEEBAF"/><stop offset="0.4065" stop-color="#FEDE8C"/><stop offset="0.5420" stop-color="#FDD06C"/><stop offset="0.6775" stop-color="#FAA552"/><stop offset="0.8130" stop-color="#F37A41"/><stop offset="0.9079" stop-color="#EC542F"/><stop offset="1.0000" stop-color="#E31C1D"/></linearGradient></defs>
<rect x="666.20" y="1829.10" width="48.60" height="240.30" fill="url(#ylo)"/>
<line x1="666.20" y1="2003.90" x2="675.80" y2="2003.90" stroke="#FFFFFF" stroke-width="1.4"/>
<line x1="705.20" y1="2003.90" x2="714.80" y2="2003.90" stroke="#FFFFFF" stroke-width="1.4"/>
<line x1="666.20" y1="1938.80" x2="675.80" y2="1938.80" stroke="#FFFFFF" stroke-width="1.4"/>
<line x1="705.20" y1="1938.80" x2="714.80" y2="1938.80" stroke="#FFFFFF" stroke-width="1.4"/>
<line x1="666.20" y1="1873.70" x2="675.80" y2="1873.70" stroke="#FFFFFF" stroke-width="1.4"/>
<line x1="705.20" y1="1873.70" x2="714.80" y2="1873.70" stroke="#FFFFFF" stroke-width="1.4"/>
<text x="733.60" y="2080.00" font-size="31" fill="#000" text-anchor="start">0</text>
<text x="733.60" y="2014.90" font-size="31" fill="#000" text-anchor="start">1</text>
<text x="733.60" y="1949.80" font-size="31" fill="#000" text-anchor="start">2</text>
<text x="733.60" y="1884.70" font-size="31" fill="#000" text-anchor="start">3</text>
<text x="654.00" y="1806.70" font-size="38.8" fill="#000" text-anchor="start">−log10(p)</text>
<rect x="1045.70" y="1660.20" width="869.10" height="553.00" fill="none" stroke="#333333" stroke-width="2.5"/>
<line x1="1035.70" y1="2188.20" x2="1045.70" y2="2188.20" stroke="#333333" stroke-width="3.3"/>
<text x="1026.50" y="2198.90" font-size="30" fill="#4D4D4D" text-anchor="end">0</text>
<line x1="1035.70" y1="2054.22" x2="1045.70" y2="2054.22" stroke="#333333" stroke-width="3.3"/>
<text x="1026.50" y="2064.92" font-size="30" fill="#4D4D4D" text-anchor="end">3</text>
<line x1="1035.70" y1="1920.24" x2="1045.70" y2="1920.24" stroke="#333333" stroke-width="3.3"/>
<text x="1026.50" y="1930.94" font-size="30" fill="#4D4D4D" text-anchor="end">6</text>
<line x1="1035.70" y1="1786.26" x2="1045.70" y2="1786.26" stroke="#333333" stroke-width="3.3"/>
<text x="1026.50" y="1796.96" font-size="30" fill="#4D4D4D" text-anchor="end">9</text>
<line x1="1067.50" y1="2213.20" x2="1067.50" y2="2222.90" stroke="#333333" stroke-width="3.3"/>
<text x="1067.50" y="2253.90" font-size="30" fill="#4D4D4D" text-anchor="middle">44246100</text>
<line x1="1273.90" y1="2213.20" x2="1273.90" y2="2222.90" stroke="#333333" stroke-width="3.3"/>
<text x="1273.90" y="2253.90" font-size="30" fill="#4D4D4D" text-anchor="middle">44246400</text>
<line x1="1480.30" y1="2213.20" x2="1480.30" y2="2222.90" stroke="#333333" stroke-width="3.3"/>
<text x="1480.30" y="2253.90" font-size="30" fill="#4D4D4D" text-anchor="middle">44246700</text>
<line x1="1686.70" y1="2213.20" x2="1686.70" y2="2222.90" stroke="#333333" stroke-width="3.3"/>
<text x="1686.70" y="2253.90" font-size="30" fill="#4D4D4D" text-anchor="middle">44247000</text>
<line x1="1893.10" y1="2213.20" x2="1893.10" y2="2222.90" stroke="#333333" stroke-width="3.3"/>
<text x="1893.10" y="2253.90" font-size="30" fill="#4D4D4D" text-anchor="middle">44247300</text>
<text x="1480.25" y="2297.20" font-size="38.0" fill="#000" text-anchor="middle">Position</text>
<text transform="translate(992.9,1936.7) rotate(-90)" font-size="38.2" fill="#000" text-anchor="middle">Peak coverage in C559</text>
<text x="1045.90" y="1580.00" font-size="47.0" fill="#000" text-anchor="start">chr6:44246124−44247274</text>
<text x="1045.90" y="1630.00" font-size="47.0" fill="#000" text-anchor="start">HSP90AB1 promoter</text>
<text x="900.00" y="1531.50" font-size="56" font-weight="bold" style="font-family:'DejaVu Sans', 'Liberation Sans', sans-serif" fill="#000">e</text>
<polyline points="1084.4,2189.0 1218.4,2189.0 1220.6,2126.5 1243.4,2126.5 1244.5,2063.4 1287.0,2063.4 1288.6,2126.5 1312.8,2126.5 1313.2,2188.5 1377.0,2188.5 1377.9,2126.5 1409.6,2126.5 1410.2,2063.4 1441.2,2063.4 1441.7,2000.2 1446.6,2000.2 1447.2,2063.4 1478.2,2063.4 1480.4,2126.5 1486.0,2126.5 1487.1,2063.4 1509.9,2063.4 1511.0,2126.5 1513.3,2063.4 1554.2,2063.4 1555.3,2126.5 1568.6,2126.5 1570.8,2000.2 1580.8,2000.2 1581.9,2063.4 1593.0,2063.4 1594.1,1937.1 1637.3,1937.1 1638.4,2063.4 1652.8,2063.4 1653.9,2000.2 1658.3,2000.2 1659.4,1937.1 1661.6,1937.1 1663.9,2063.4 1665.0,2000.2 1682.7,2000.2 1683.1,1937.1 1691.5,1937.1 1693.8,1874.0 1720.8,1873.2 1722.1,1936.9 1726.0,1936.9 1727.3,1999.3 1732.5,1999.3 1733.8,2063.0 1736.4,2063.0 1737.7,1999.3 1750.7,1999.3 1752.0,2063.0 1761.1,2063.0 1762.4,2125.4 1770.7,2125.4 1771.5,2063.0 1805.3,2063.0 1806.6,2125.4 1839.9,2125.4 1840.4,2189.1 1875.5,2189.1" fill="none" stroke="#F2A516" stroke-width="3.0" stroke-linejoin="miter" stroke-miterlimit="2"/>
<polyline points="1084.4,2127.6 1093.9,2127.6 1094.8,2108.8 1125.4,2108.8 1126.5,2127.6 1133.8,2127.6 1134.7,2145.3 1136.0,2164.1 1154.2,2164.1 1155.3,2146.4 1162.4,2146.4 1163.0,2164.1 1169.0,2164.1 1169.7,2146.4 1187.4,2146.4 1188.0,2127.6 1202.9,2127.6 1204.4,2087.7 1207.3,2087.7 1208.4,2067.8 1210.6,2067.8 1211.7,2047.9 1214.4,2047.9 1215.1,2027.9 1223.9,2027.9 1226.1,1988.1 1227.9,1988.1 1229.9,1887.3 1231.0,1886.2 1232.8,1846.3 1235.0,1846.3 1236.1,1825.3 1238.3,1825.3 1239.0,1846.3 1245.0,1846.3 1245.4,1825.3 1257.2,1825.3 1257.8,1805.3 1270.0,1805.3 1270.4,1785.4 1272.7,1785.4 1273.8,1765.5 1275.5,1744.4 1276.4,1744.4 1277.5,1765.5 1279.3,1765.5 1281.5,1786.5 1283.3,1786.5 1284.0,1805.3 1285.7,1805.3 1286.5,1785.4 1292.2,1785.4 1294.4,1846.3 1295.9,1846.3 1297.3,1805.3 1298.2,1846.3 1298.8,1906.1 1299.9,1907.2 1301.7,1947.1 1303.3,1947.1 1304.8,1967.0 1313.7,1967.0 1314.3,1987.0 1317.2,1987.0 1318.1,1967.0 1324.3,1967.0 1326.5,2006.9 1338.0,2006.9 1339.4,2026.8 1341.6,2027.9 1343.8,2107.7 1355.3,2107.7 1356.4,2127.6 1357.5,2107.7 1364.2,2107.7 1366.4,2147.5 1376.3,2147.5 1378.6,2107.7 1386.3,2107.7 1387.4,2127.6 1402.3,2127.6 1403.4,2107.7 1409.6,2107.7 1410.7,2067.8 1425.1,2067.8 1425.7,2047.9 1426.6,2067.8 1445.7,2067.8 1446.6,2107.7 1458.3,2107.7 1459.4,2087.7 1470.5,2087.7 1471.6,2107.7 1478.2,2107.7 1479.3,2147.5 1480.4,2127.6 1493.3,2127.6 1494.0,2147.5 1526.5,2147.5 1527.7,2169.7 1535.4,2169.7 1536.1,2147.5 1548.0,2147.5 1548.7,2169.7 1556.4,2169.7 1557.6,2147.5 1573.1,2147.5 1574.2,2127.6 1590.8,2127.6 1591.9,2107.7 1595.2,2107.7 1596.3,2087.7 1600.7,2087.7 1601.8,2067.8 1603.4,2067.8 1604.5,2087.7 1616.2,2087.7 1617.4,2047.9 1619.6,2027.9 1624.0,2027.9 1626.2,2047.9 1631.1,2047.9 1632.9,2027.9 1635.1,2027.9 1636.2,2008.0 1638.4,1988.1 1640.2,1968.1 1641.7,1985.8 1642.8,1968.1 1644.6,1988.1 1646.8,1968.1 1653.9,1968.1 1655.0,1947.1 1657.9,1947.1 1659.4,1908.3 1660.5,1927.2 1661.6,1908.3 1665.0,1908.3 1666.1,1927.2 1668.3,1927.2 1669.4,1947.1 1682.7,1947.1 1683.8,1927.2 1687.1,1927.2 1689.3,1947.1 1690.4,1908.3 1691.1,1866.2 1699.3,1866.2 1700.4,1886.2 1703.9,1886.2 1705.2,1845.9 1707.3,1865.4 1709.1,1886.2 1713.0,1886.2 1715.6,1845.9 1716.9,1866.7 1720.8,1866.7 1722.1,1845.9 1724.7,1845.9 1725.5,1866.7 1726.5,1784.8 1728.6,1826.4 1730.7,1845.9 1732.5,1826.4 1739.0,1826.4 1740.3,1726.3 1742.1,1684.7 1752.0,1684.7 1754.1,1705.5 1755.4,1744.5 1757.7,1744.5 1760.3,1826.4 1770.2,1826.4 1772.3,1845.9 1773.3,1805.6 1774.9,1845.9 1781.9,1845.9 1784.5,1886.2 1789.7,1886.2 1791.0,1907.0 1793.6,1907.0 1795.7,1987.6 1800.9,1987.6 1802.7,2007.1 1807.9,2007.1 1811.3,2148.8 1838.3,2148.8 1839.1,2126.7 1840.4,2168.3 1875.5,2168.3" fill="none" stroke="#A52A2A" stroke-width="3.0" stroke-linejoin="miter" stroke-miterlimit="2"/>
<text x="1974.40" y="1871.60" font-size="38.7" fill="#000" text-anchor="start">Cancer</text>
<text x="1974.40" y="1913.80" font-size="38.7" fill="#000" text-anchor="start">region</text>
<line x1="1978.40" y1="1962.00" x2="2017.00" y2="1962.00" stroke="#F2A516" stroke-width="3.0"/>
<line x1="1978.40" y1="2009.80" x2="2017.00" y2="2009.80" stroke="#A52A2A" stroke-width="3.0"/>
<text x="2041.50" y="1972.50" font-size="30" fill="#000" text-anchor="start">B</text>
<text x="2041.50" y="2020.10" font-size="30" fill="#000" text-anchor="start">C&amp;D</text>
</svg>
</body></html>
